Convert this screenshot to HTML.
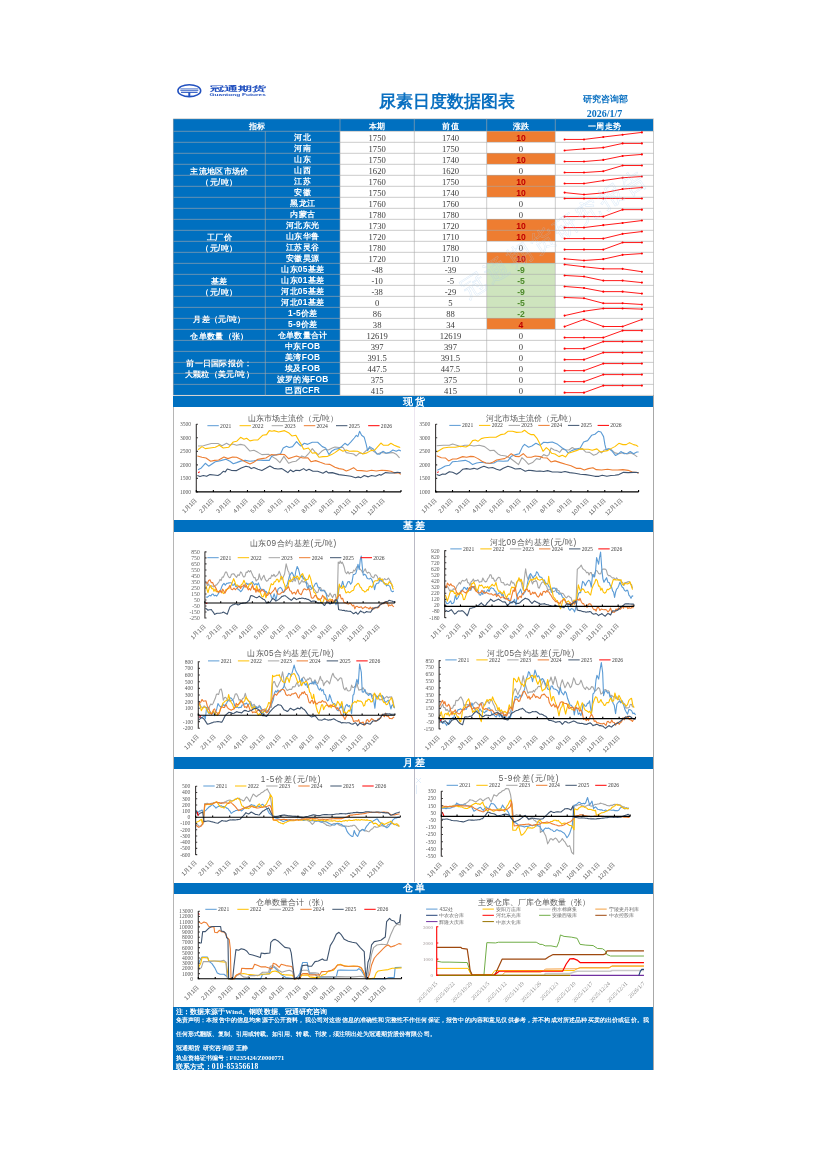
<!DOCTYPE html>
<html lang="zh"><head><meta charset="utf-8"><title>尿素日度数据图表</title>
<style>
html,body{margin:0;padding:0;background:#fff;}
body{width:826px;height:1168px;position:relative;overflow:hidden;font-family:"Liberation Sans",sans-serif;}
.abs{position:absolute;}
.bar{position:absolute;left:173.4px;width:480.1px;background:#0070c0;color:#fff;font-weight:bold;font-size:9.6px;text-align:center;}
.bar span{position:absolute;left:3.4px;right:0;top:-0.1px;line-height:12px;letter-spacing:2px}
.c{position:absolute;text-align:center;white-space:nowrap;overflow:hidden}
.lab{color:#fff;font-weight:bold;font-size:8.4px;line-height:13.4px;letter-spacing:0.3px;text-indent:0.3px}
.num{color:#3a3a3a;font-family:"Liberation Serif",serif;font-size:8.6px;line-height:14.4px;}
.up{background:#ee7d31;color:#c00000;font-weight:bold;font-family:"Liberation Sans",sans-serif;font-size:8.6px}
.dn{background:#cee4be;color:#4e8a2c;font-weight:bold;font-family:"Liberation Sans",sans-serif;font-size:8.6px}
svg text{font-family:"Liberation Serif",serif;}
svg text.cj{font-family:"Liberation Sans",sans-serif;}
.s{font-family:"Liberation Serif",serif;}
.ft{position:absolute;left:175.5px;color:#fff;font-weight:bold;white-space:nowrap;font-family:"Liberation Sans",sans-serif;}
#wrap{position:absolute;left:0;top:0;width:826px;height:1168px;will-change:transform;}
</style></head><body><div id="wrap">
<svg class="abs" style="left:0;top:0" width="826" height="118" viewBox="0 0 826 118">
<g fill="none" stroke="#2150bf">
<ellipse cx="189.3" cy="90.7" rx="11.4" ry="6.0" stroke-width="1.5"/>
<path d="M180.3 88.9H198.3M180.3 90.4H198.3" stroke-width="0.8"/>
<path d="M181 92.3H197.6" stroke-width="1.1"/>
<path d="M189.3 92.3V96.6" stroke-width="2"/>
<path d="M186.3 96.3H192.3" stroke-width="1"/>
</g>
<text x="209.5" y="91.4" font-size="7" font-weight="bold" fill="#2150bf" style="font-family:'Liberation Sans',sans-serif" textLength="56.3" lengthAdjust="spacingAndGlyphs">冠通期货</text>
<text x="209.5" y="96.3" font-size="3.6" font-weight="bold" fill="#2150bf" style="font-family:'Liberation Sans',sans-serif" textLength="56.3" lengthAdjust="spacingAndGlyphs">Guantong Futures</text>
</svg>
<div class="abs" style="left:347px;width:200px;top:90.8px;text-align:center;color:#0a70c1;font-weight:bold;font-size:16.6px;line-height:22px;font-family:'Liberation Sans',sans-serif;white-space:nowrap">尿素日度数据图表</div>
<div class="abs" style="left:565px;width:80px;top:93.5px;text-align:center;color:#0a70c1;font-weight:bold;font-size:8.7px;line-height:11px;font-family:'Liberation Sans',sans-serif;white-space:nowrap">研究咨询部</div>
<div class="abs" style="left:564.6px;width:80px;top:107.6px;text-align:center;color:#0a70c1;font-weight:bold;font-size:10px;line-height:11px;font-family:'Liberation Serif',serif;white-space:nowrap">2026/1/7</div>
<div class="abs" style="left:173.4px;top:118.8px;width:480.1px;height:12.5px;background:#0070c0"></div>
<div class="abs" style="left:173.4px;top:131.3px;width:166.6px;height:264.1px;background:#0070c0"></div>
<div class="c lab" style="left:173.4px;width:166.6px;top:118.8px;height:12.5px;line-height:15.4px">指标</div>
<div class="c lab" style="left:340px;width:74.3px;top:118.8px;height:12.5px;line-height:15.4px">本期</div>
<div class="c lab" style="left:414.3px;width:72.4px;top:118.8px;height:12.5px;line-height:15.4px">前值</div>
<div class="c lab" style="left:486.7px;width:68.6px;top:118.8px;height:12.5px;line-height:15.4px">涨跌</div>
<div class="c lab" style="left:555.3px;width:98.2px;top:118.8px;height:12.5px;line-height:15.4px">一周走势</div>
<div class="c lab" style="left:265.3px;width:74.7px;top:131.3px;height:11px">河北</div><div class="c num" style="left:340px;width:74.3px;top:131.3px;height:11px">1750</div><div class="c num" style="left:414.3px;width:72.4px;top:131.3px;height:11px">1740</div><div class="c num up" style="left:486.7px;width:68.6px;top:131.3px;height:11px">10</div>
<div class="c lab" style="left:265.3px;width:74.7px;top:142.3px;height:11px">河南</div><div class="c num" style="left:340px;width:74.3px;top:142.3px;height:11px">1750</div><div class="c num" style="left:414.3px;width:72.4px;top:142.3px;height:11px">1750</div><div class="c num" style="left:486.7px;width:68.6px;top:142.3px;height:11px">0</div>
<div class="c lab" style="left:265.3px;width:74.7px;top:153.31px;height:11px">山东</div><div class="c num" style="left:340px;width:74.3px;top:153.31px;height:11px">1750</div><div class="c num" style="left:414.3px;width:72.4px;top:153.31px;height:11px">1740</div><div class="c num up" style="left:486.7px;width:68.6px;top:153.31px;height:11px">10</div>
<div class="c lab" style="left:265.3px;width:74.7px;top:164.31px;height:11px">山西</div><div class="c num" style="left:340px;width:74.3px;top:164.31px;height:11px">1620</div><div class="c num" style="left:414.3px;width:72.4px;top:164.31px;height:11px">1620</div><div class="c num" style="left:486.7px;width:68.6px;top:164.31px;height:11px">0</div>
<div class="c lab" style="left:265.3px;width:74.7px;top:175.32px;height:11px">江苏</div><div class="c num" style="left:340px;width:74.3px;top:175.32px;height:11px">1760</div><div class="c num" style="left:414.3px;width:72.4px;top:175.32px;height:11px">1750</div><div class="c num up" style="left:486.7px;width:68.6px;top:175.32px;height:11px">10</div>
<div class="c lab" style="left:265.3px;width:74.7px;top:186.32px;height:11px">安徽</div><div class="c num" style="left:340px;width:74.3px;top:186.32px;height:11px">1750</div><div class="c num" style="left:414.3px;width:72.4px;top:186.32px;height:11px">1740</div><div class="c num up" style="left:486.7px;width:68.6px;top:186.32px;height:11px">10</div>
<div class="c lab" style="left:265.3px;width:74.7px;top:197.32px;height:11px">黑龙江</div><div class="c num" style="left:340px;width:74.3px;top:197.32px;height:11px">1760</div><div class="c num" style="left:414.3px;width:72.4px;top:197.32px;height:11px">1760</div><div class="c num" style="left:486.7px;width:68.6px;top:197.32px;height:11px">0</div>
<div class="c lab" style="left:265.3px;width:74.7px;top:208.33px;height:11px">内蒙古</div><div class="c num" style="left:340px;width:74.3px;top:208.33px;height:11px">1780</div><div class="c num" style="left:414.3px;width:72.4px;top:208.33px;height:11px">1780</div><div class="c num" style="left:486.7px;width:68.6px;top:208.33px;height:11px">0</div>
<div class="c lab" style="left:265.3px;width:74.7px;top:219.33px;height:11px">河北东光</div><div class="c num" style="left:340px;width:74.3px;top:219.33px;height:11px">1730</div><div class="c num" style="left:414.3px;width:72.4px;top:219.33px;height:11px">1720</div><div class="c num up" style="left:486.7px;width:68.6px;top:219.33px;height:11px">10</div>
<div class="c lab" style="left:265.3px;width:74.7px;top:230.34px;height:11px">山东华鲁</div><div class="c num" style="left:340px;width:74.3px;top:230.34px;height:11px">1720</div><div class="c num" style="left:414.3px;width:72.4px;top:230.34px;height:11px">1710</div><div class="c num up" style="left:486.7px;width:68.6px;top:230.34px;height:11px">10</div>
<div class="c lab" style="left:265.3px;width:74.7px;top:241.34px;height:11px">江苏灵谷</div><div class="c num" style="left:340px;width:74.3px;top:241.34px;height:11px">1780</div><div class="c num" style="left:414.3px;width:72.4px;top:241.34px;height:11px">1780</div><div class="c num" style="left:486.7px;width:68.6px;top:241.34px;height:11px">0</div>
<div class="c lab" style="left:265.3px;width:74.7px;top:252.34px;height:11px">安徽昊源</div><div class="c num" style="left:340px;width:74.3px;top:252.34px;height:11px">1720</div><div class="c num" style="left:414.3px;width:72.4px;top:252.34px;height:11px">1710</div><div class="c num up" style="left:486.7px;width:68.6px;top:252.34px;height:11px">10</div>
<div class="c lab" style="left:265.3px;width:74.7px;top:263.35px;height:11px">山东05基差</div><div class="c num" style="left:340px;width:74.3px;top:263.35px;height:11px">-48</div><div class="c num" style="left:414.3px;width:72.4px;top:263.35px;height:11px">-39</div><div class="c num dn" style="left:486.7px;width:68.6px;top:263.35px;height:11px">-9</div>
<div class="c lab" style="left:265.3px;width:74.7px;top:274.35px;height:11px">山东01基差</div><div class="c num" style="left:340px;width:74.3px;top:274.35px;height:11px">-10</div><div class="c num" style="left:414.3px;width:72.4px;top:274.35px;height:11px">-5</div><div class="c num dn" style="left:486.7px;width:68.6px;top:274.35px;height:11px">-5</div>
<div class="c lab" style="left:265.3px;width:74.7px;top:285.36px;height:11px">河北05基差</div><div class="c num" style="left:340px;width:74.3px;top:285.36px;height:11px">-38</div><div class="c num" style="left:414.3px;width:72.4px;top:285.36px;height:11px">-29</div><div class="c num dn" style="left:486.7px;width:68.6px;top:285.36px;height:11px">-9</div>
<div class="c lab" style="left:265.3px;width:74.7px;top:296.36px;height:11px">河北01基差</div><div class="c num" style="left:340px;width:74.3px;top:296.36px;height:11px">0</div><div class="c num" style="left:414.3px;width:72.4px;top:296.36px;height:11px">5</div><div class="c num dn" style="left:486.7px;width:68.6px;top:296.36px;height:11px">-5</div>
<div class="c lab" style="left:265.3px;width:74.7px;top:307.36px;height:11px">1-5价差</div><div class="c num" style="left:340px;width:74.3px;top:307.36px;height:11px">86</div><div class="c num" style="left:414.3px;width:72.4px;top:307.36px;height:11px">88</div><div class="c num dn" style="left:486.7px;width:68.6px;top:307.36px;height:11px">-2</div>
<div class="c lab" style="left:265.3px;width:74.7px;top:318.37px;height:11px">5-9价差</div><div class="c num" style="left:340px;width:74.3px;top:318.37px;height:11px">38</div><div class="c num" style="left:414.3px;width:72.4px;top:318.37px;height:11px">34</div><div class="c num up" style="left:486.7px;width:68.6px;top:318.37px;height:11px">4</div>
<div class="c lab" style="left:265.3px;width:74.7px;top:329.37px;height:11px">仓单数量合计</div><div class="c num" style="left:340px;width:74.3px;top:329.37px;height:11px">12619</div><div class="c num" style="left:414.3px;width:72.4px;top:329.37px;height:11px">12619</div><div class="c num" style="left:486.7px;width:68.6px;top:329.37px;height:11px">0</div>
<div class="c lab" style="left:265.3px;width:74.7px;top:340.38px;height:11px">中东FOB</div><div class="c num" style="left:340px;width:74.3px;top:340.38px;height:11px">397</div><div class="c num" style="left:414.3px;width:72.4px;top:340.38px;height:11px">397</div><div class="c num" style="left:486.7px;width:68.6px;top:340.38px;height:11px">0</div>
<div class="c lab" style="left:265.3px;width:74.7px;top:351.38px;height:11px">美湾FOB</div><div class="c num" style="left:340px;width:74.3px;top:351.38px;height:11px">391.5</div><div class="c num" style="left:414.3px;width:72.4px;top:351.38px;height:11px">391.5</div><div class="c num" style="left:486.7px;width:68.6px;top:351.38px;height:11px">0</div>
<div class="c lab" style="left:265.3px;width:74.7px;top:362.38px;height:11px">埃及FOB</div><div class="c num" style="left:340px;width:74.3px;top:362.38px;height:11px">447.5</div><div class="c num" style="left:414.3px;width:72.4px;top:362.38px;height:11px">447.5</div><div class="c num" style="left:486.7px;width:68.6px;top:362.38px;height:11px">0</div>
<div class="c lab" style="left:265.3px;width:74.7px;top:373.39px;height:11px">波罗的海FOB</div><div class="c num" style="left:340px;width:74.3px;top:373.39px;height:11px">375</div><div class="c num" style="left:414.3px;width:72.4px;top:373.39px;height:11px">375</div><div class="c num" style="left:486.7px;width:68.6px;top:373.39px;height:11px">0</div>
<div class="c lab" style="left:265.3px;width:74.7px;top:384.39px;height:11px">巴西CFR</div><div class="c num" style="left:340px;width:74.3px;top:384.39px;height:11px">415</div><div class="c num" style="left:414.3px;width:72.4px;top:384.39px;height:11px">415</div><div class="c num" style="left:486.7px;width:68.6px;top:384.39px;height:11px">0</div>
<div class="c lab" style="left:173.4px;width:91.9px;top:165.52px;height:22px;line-height:11px">主流地区市场价<br>（元/吨）</div>
<div class="c lab" style="left:173.4px;width:91.9px;top:231.54px;height:22px;line-height:11px">工厂价<br>（元/吨）</div>
<div class="c lab" style="left:173.4px;width:91.9px;top:275.56px;height:22px;line-height:11px">基差<br>（元/吨）</div>
<div class="c lab" style="left:173.4px;width:91.9px;top:314.07px;height:11px;line-height:11px">月差（元/吨）</div>
<div class="c lab" style="left:173.4px;width:91.9px;top:330.57px;height:11px;line-height:11px">仓单数量（张）</div>
<div class="c lab" style="left:173.4px;width:91.9px;top:358.09px;height:22px;line-height:11px">前一日国际报价：<br>大颗粒（美元/吨）</div>
<svg class="abs" style="left:0;top:0" width="826" height="400" viewBox="0 0 826 400">
<path d="M173.4 118.8H653.5M173.4 131.3H653.5M173.4 142.3H653.5M173.4 153.31H653.5M173.4 164.31H653.5M173.4 175.32H653.5M173.4 186.32H653.5M173.4 197.32H653.5M173.4 208.33H653.5M173.4 219.33H653.5M173.4 230.34H653.5M173.4 241.34H653.5M173.4 252.34H653.5M173.4 263.35H653.5M173.4 274.35H653.5M173.4 285.36H653.5M173.4 296.36H653.5M173.4 307.36H653.5M173.4 318.37H653.5M173.4 329.37H653.5M173.4 340.38H653.5M173.4 351.38H653.5M173.4 362.38H653.5M173.4 373.39H653.5M173.4 384.39H653.5M173.4 395.4H653.5M173.4 118.8V395.4M265.3 131.3V395.4M340 118.8V395.4M414.3 118.8V395.4M486.7 118.8V395.4M555.3 118.8V395.4M653.5 118.8V395.4" fill="none" stroke="#a9a9a9" stroke-width="0.6"/>
<polyline points="564.6,139.44 584,139.44 603.3,137.02 622.6,134.71 641.9,132.4" fill="none" stroke="#ff0000" stroke-width="0.9"/><path d="M564.6 139.44h0.01M584 139.44h0.01M603.3 137.02h0.01M622.6 134.71h0.01M641.9 132.4h0.01" fill="none" stroke="#ff0000" stroke-width="2.1" stroke-linecap="round"/>
<polyline points="564.6,150.45 584,148.91 603.3,147.59 622.6,143.4 641.9,143.4" fill="none" stroke="#ff0000" stroke-width="0.9"/><path d="M564.6 150.45h0.01M584 148.91h0.01M603.3 147.59h0.01M622.6 143.4h0.01M641.9 143.4h0.01" fill="none" stroke="#ff0000" stroke-width="2.1" stroke-linecap="round"/>
<polyline points="564.6,161.56 584,161.56 603.3,159.91 622.6,155.95 641.9,154.41" fill="none" stroke="#ff0000" stroke-width="0.9"/><path d="M564.6 161.56h0.01M584 161.56h0.01M603.3 159.91h0.01M622.6 155.95h0.01M641.9 154.41h0.01" fill="none" stroke="#ff0000" stroke-width="2.1" stroke-linecap="round"/>
<polyline points="564.6,172.56 584,172.56 603.3,171.24 622.6,165.52 641.9,165.52" fill="none" stroke="#ff0000" stroke-width="0.9"/><path d="M564.6 172.56h0.01M584 172.56h0.01M603.3 171.24h0.01M622.6 165.52h0.01M641.9 165.52h0.01" fill="none" stroke="#ff0000" stroke-width="2.1" stroke-linecap="round"/>
<polyline points="564.6,183.57 584,183.57 603.3,180.6 622.6,177.74 641.9,176.53" fill="none" stroke="#ff0000" stroke-width="0.9"/><path d="M564.6 183.57h0.01M584 183.57h0.01M603.3 180.6h0.01M622.6 177.74h0.01M641.9 176.53h0.01" fill="none" stroke="#ff0000" stroke-width="2.1" stroke-linecap="round"/>
<polyline points="564.6,192.59 584,194.57 603.3,192.92 622.6,189.07 641.9,187.53" fill="none" stroke="#ff0000" stroke-width="0.9"/><path d="M564.6 192.59h0.01M584 194.57h0.01M603.3 192.92h0.01M622.6 189.07h0.01M641.9 187.53h0.01" fill="none" stroke="#ff0000" stroke-width="2.1" stroke-linecap="round"/>
<polyline points="564.6,198.53 584,198.53 603.3,198.53 622.6,198.53 641.9,198.53" fill="none" stroke="#ff0000" stroke-width="0.9"/><path d="M564.6 198.53h0.01M584 198.53h0.01M603.3 198.53h0.01M622.6 198.53h0.01M641.9 198.53h0.01" fill="none" stroke="#ff0000" stroke-width="2.1" stroke-linecap="round"/>
<polyline points="564.6,216.58 584,216.58 603.3,216.58 622.6,209.65 641.9,209.65" fill="none" stroke="#ff0000" stroke-width="0.9"/><path d="M564.6 216.58h0.01M584 216.58h0.01M603.3 216.58h0.01M622.6 209.65h0.01M641.9 209.65h0.01" fill="none" stroke="#ff0000" stroke-width="2.1" stroke-linecap="round"/>
<polyline points="564.6,227.58 584,227.58 603.3,225.16 622.6,222.96 641.9,220.54" fill="none" stroke="#ff0000" stroke-width="0.9"/><path d="M564.6 227.58h0.01M584 227.58h0.01M603.3 225.16h0.01M622.6 222.96h0.01M641.9 220.54h0.01" fill="none" stroke="#ff0000" stroke-width="2.1" stroke-linecap="round"/>
<polyline points="564.6,238.59 584,238.59 603.3,238.59 622.6,233.86 641.9,231.55" fill="none" stroke="#ff0000" stroke-width="0.9"/><path d="M564.6 238.59h0.01M584 238.59h0.01M603.3 238.59h0.01M622.6 233.86h0.01M641.9 231.55h0.01" fill="none" stroke="#ff0000" stroke-width="2.1" stroke-linecap="round"/>
<polyline points="564.6,249.59 584,249.59 603.3,249.59 622.6,242.55 641.9,242.55" fill="none" stroke="#ff0000" stroke-width="0.9"/><path d="M564.6 249.59h0.01M584 249.59h0.01M603.3 249.59h0.01M622.6 242.55h0.01M641.9 242.55h0.01" fill="none" stroke="#ff0000" stroke-width="2.1" stroke-linecap="round"/>
<polyline points="564.6,258.84 584,260.49 603.3,259.17 622.6,254.87 641.9,253.55" fill="none" stroke="#ff0000" stroke-width="0.9"/><path d="M564.6 258.84h0.01M584 260.49h0.01M603.3 259.17h0.01M622.6 254.87h0.01M641.9 253.55h0.01" fill="none" stroke="#ff0000" stroke-width="2.1" stroke-linecap="round"/>
<polyline points="564.6,264.45 584,266.76 603.3,268.85 622.6,268.85 641.9,271.71" fill="none" stroke="#ff0000" stroke-width="0.9"/><path d="M564.6 264.45h0.01M584 266.76h0.01M603.3 268.85h0.01M622.6 268.85h0.01M641.9 271.71h0.01" fill="none" stroke="#ff0000" stroke-width="2.1" stroke-linecap="round"/>
<polyline points="564.6,275.45 584,276.55 603.3,280.62 622.6,280.62 641.9,282.6" fill="none" stroke="#ff0000" stroke-width="0.9"/><path d="M564.6 275.45h0.01M584 276.55h0.01M603.3 280.62h0.01M622.6 280.62h0.01M641.9 282.6h0.01" fill="none" stroke="#ff0000" stroke-width="2.1" stroke-linecap="round"/>
<polyline points="564.6,286.46 584,288 603.3,291.63 622.6,291.63 641.9,293.61" fill="none" stroke="#ff0000" stroke-width="0.9"/><path d="M564.6 286.46h0.01M584 288h0.01M603.3 291.63h0.01M622.6 291.63h0.01M641.9 293.61h0.01" fill="none" stroke="#ff0000" stroke-width="2.1" stroke-linecap="round"/>
<polyline points="564.6,297.46 584,298.23 603.3,303.29 622.6,303.29 641.9,304.5" fill="none" stroke="#ff0000" stroke-width="0.9"/><path d="M564.6 297.46h0.01M584 298.23h0.01M603.3 303.29h0.01M622.6 303.29h0.01M641.9 304.5h0.01" fill="none" stroke="#ff0000" stroke-width="2.1" stroke-linecap="round"/>
<polyline points="564.6,315.62 584,311.22 603.3,308.46 622.6,308.46 641.9,309.12" fill="none" stroke="#ff0000" stroke-width="0.9"/><path d="M564.6 315.62h0.01M584 311.22h0.01M603.3 308.46h0.01M622.6 308.46h0.01M641.9 309.12h0.01" fill="none" stroke="#ff0000" stroke-width="2.1" stroke-linecap="round"/>
<polyline points="564.6,326.62 584,319.47 603.3,326.51 622.6,326.51 641.9,319.47" fill="none" stroke="#ff0000" stroke-width="0.9"/><path d="M564.6 326.62h0.01M584 319.47h0.01M603.3 326.51h0.01M622.6 326.51h0.01M641.9 319.47h0.01" fill="none" stroke="#ff0000" stroke-width="2.1" stroke-linecap="round"/>
<polyline points="564.6,337.62 584,337.62 603.3,337.62 622.6,330.58 641.9,330.58" fill="none" stroke="#ff0000" stroke-width="0.9"/><path d="M564.6 337.62h0.01M584 337.62h0.01M603.3 337.62h0.01M622.6 330.58h0.01M641.9 330.58h0.01" fill="none" stroke="#ff0000" stroke-width="2.1" stroke-linecap="round"/>
<polyline points="564.6,348.63 584,348.63 603.3,341.59 622.6,341.59 641.9,341.59" fill="none" stroke="#ff0000" stroke-width="0.9"/><path d="M564.6 348.63h0.01M584 348.63h0.01M603.3 341.59h0.01M622.6 341.59h0.01M641.9 341.59h0.01" fill="none" stroke="#ff0000" stroke-width="2.1" stroke-linecap="round"/>
<polyline points="564.6,359.63 584,359.63 603.3,352.59 622.6,352.59 641.9,352.59" fill="none" stroke="#ff0000" stroke-width="0.9"/><path d="M564.6 359.63h0.01M584 359.63h0.01M603.3 352.59h0.01M622.6 352.59h0.01M641.9 352.59h0.01" fill="none" stroke="#ff0000" stroke-width="2.1" stroke-linecap="round"/>
<polyline points="564.6,370.64 584,370.64 603.3,363.59 622.6,363.59 641.9,363.59" fill="none" stroke="#ff0000" stroke-width="0.9"/><path d="M564.6 370.64h0.01M584 370.64h0.01M603.3 363.59h0.01M622.6 363.59h0.01M641.9 363.59h0.01" fill="none" stroke="#ff0000" stroke-width="2.1" stroke-linecap="round"/>
<polyline points="564.6,381.64 584,381.64 603.3,374.6 622.6,374.6 641.9,374.6" fill="none" stroke="#ff0000" stroke-width="0.9"/><path d="M564.6 381.64h0.01M584 381.64h0.01M603.3 374.6h0.01M622.6 374.6h0.01M641.9 374.6h0.01" fill="none" stroke="#ff0000" stroke-width="2.1" stroke-linecap="round"/>
<polyline points="564.6,392.64 584,392.64 603.3,385.6 622.6,385.6 641.9,385.6" fill="none" stroke="#ff0000" stroke-width="0.9"/><path d="M564.6 392.64h0.01M584 392.64h0.01M603.3 385.6h0.01M622.6 385.6h0.01M641.9 385.6h0.01" fill="none" stroke="#ff0000" stroke-width="2.1" stroke-linecap="round"/>
<text x="0" y="0" transform="translate(468.4,298.6) rotate(-32.8)" font-size="24" fill="none" stroke="#a6cbee" stroke-width="0.4" opacity="0.45" style="font-family:'Liberation Sans',sans-serif" textLength="214" lengthAdjust="spacing">冠通期货研究报告</text>
</svg>
<div class="bar" style="top:395.6px;height:11.6px"><span>现货</span></div>
<div class="bar" style="top:520.1px;height:11.7px"><span>基差</span></div>
<div class="bar" style="top:757.4px;height:11.8px"><span>月差</span></div>
<div class="bar" style="top:882.5px;height:11.7px"><span>仓单</span></div>
<div class="abs" style="left:173.2px;top:407px;width:0.8px;height:601px;background:#b5b5b5"></div>
<div class="abs" style="left:653.1px;top:395px;width:0.9px;height:675px;background:#a8a8a8"></div>
<div class="abs" style="left:413.7px;top:407.2px;width:0.6px;height:112.9px;background:#ece6f0"></div>
<div class="abs" style="left:413.7px;top:531.8px;width:0.9px;height:225.6px;background:#b9b9c4"></div>
<div class="abs" style="left:413.7px;top:769.2px;width:0.9px;height:113.3px;background:#b9b9c4"></div>
<svg class="abs" style="left:414px;top:776px" width="10" height="22" viewBox="0 0 10 22"><path d="M2 2L7 7M7 2L2 7M2.5 9V18" stroke="#cfe3f7" stroke-width="0.6" fill="none"/></svg>
<svg class="abs" style="left:0;top:400px" width="826" height="612" viewBox="0 400 826 612">
<text class="cj" x="292.7" y="420.6" font-size="8.2" text-anchor="middle" fill="#595959" letter-spacing="0">山东市场主流价（元/吨）</text>
<text x="191.1" y="426.2" font-size="5.6" text-anchor="end" fill="#595959">3500</text><text x="191.1" y="439.72" font-size="5.6" text-anchor="end" fill="#595959">3000</text><text x="191.1" y="453.24" font-size="5.6" text-anchor="end" fill="#595959">2500</text><text x="191.1" y="466.76" font-size="5.6" text-anchor="end" fill="#595959">2000</text><text x="191.1" y="480.28" font-size="5.6" text-anchor="end" fill="#595959">1500</text><text x="191.1" y="493.8" font-size="5.6" text-anchor="end" fill="#595959">1000</text>
<path d="M197.99 445.97L203.32 445.7L211.31 443.57L217.97 443.57L221.96 445.7L226.62 443.3L229.95 445.3L232.62 443.97L236.61 445.3L240.61 444.37L244.6 445.3L249.93 451.03L253.92 450.23L257.92 452.36L261.91 454.62L268.57 454.22L272.57 456.89L276.56 459.28L279.89 462.61L283.89 456.35L288.55 463.28L292.54 461.68L295.87 461.28L300 457.95L301.66 455.95L304.99 457.29L308.32 453.96L312.31 448.63L314.98 451.96L318.31 454.62L321.63 451.29L324.96 449.3L328.29 449.96L332.29 447.96L334.95 447.03L338.95 447.56L342.94 447.3L346.27 452.62L349.6 453.29L353.6 453.96L356.26 455.95L359.59 452.89L362.92 453.69L366.91 449.96L369.58 447.96L373.57 451.29L377.57 453.96L381.56 452.36L385.56 453.29L389.55 452.89L392.88 452.62L396.21 454.22L399.54 457.95" fill="none" stroke="#a5a5a5" stroke-width="1.1" stroke-linejoin="round"/>
<path d="M197.99 469.67L201.32 467.94L205.31 463.28L208.64 466.21L215.3 461.68L220.63 460.62L225.96 459.28L229.95 461.28L233.28 463.68L236.61 462.61L241.27 460.88L245.27 460.35L249.93 461.28L253.92 460.88L257.92 459.95L263.24 460.35L269.24 460.35L271.9 455.95L276.56 454.62L280.56 453.69L283.22 447.96L286.55 446.23L289.21 447.56L292.54 446.63L296.54 441.7L300 445.3L300.99 445.97L304.32 443.3L307.65 444.37L312.31 442.24L317.64 442.24L322.3 446.63L325.63 447.96L328.96 454.62L331.62 451.29L334.95 449.3L338.95 448.63L342.28 445.97L344.94 443.3L347.6 445.3L350.93 441.97L354.26 437.98L356.26 435.31L357.86 436.64L359.59 431.32L361.59 435.31L364.25 437.31L366.25 444.63L367.58 450.63L369.58 446.63L373.57 449.3L376.9 453.96L379.56 454.22L382.89 451.29L386.22 453.29L389.55 452.36L392.88 449.96L396.21 451.29L398.87 449.96L400.87 451.03" fill="none" stroke="#5b9bd5" stroke-width="1.1" stroke-linejoin="round"/>
<path d="M197.99 449.69L201.99 446.63L205.31 448.63L209.98 447.96L215.3 447.3L219.3 445.3L223.29 447.96L228.62 447.3L233.28 441.97L236.61 441.31L240.61 437.31L243.93 439.31L246.6 438.24L249.93 440.91L253.92 439.97L257.92 439.97L262.58 435.31L266.57 434.65L269.24 430.65L271.9 431.32L273.9 430.65L278.56 431.98L284.55 430.65L288.55 432.65L291.88 435.98L295.87 435.31L300 442.64L300.33 442.64L303.66 449.3L308.32 447.96L312.31 453.29L315.64 452.62L318.97 457.29L322.97 456.62L327.63 456.35L331.62 454.62L334.95 452.62L339.61 449.3L342.94 451.29L346.27 449.96L349.6 451.29L353.6 451.03L357.59 451.29L360.25 452.62L362.92 453.96L366.91 452.89L370.91 450.63L374.9 449.96L378.9 445.3L380.9 443.04L383.56 445.3L388.22 445.3L390.88 443.3L394.21 445.3L397.54 446.63L400.21 447.56" fill="none" stroke="#ffc000" stroke-width="1.1" stroke-linejoin="round"/>
<path d="M197.32 455.95L201.99 457.29L205.98 457.95L210.64 461.28L214.64 460.35L218.63 459.95L223.96 457.02L227.95 458.62L232.62 457.02L236.61 457.29L241.27 459.55L245.27 461.68L249.93 463.94L253.26 462.61L257.92 459.28L261.91 458.62L265.91 457.95L271.23 454.62L276.56 455.02L280.56 454.22L284.55 454.62L288.55 458.62L292.54 457.29L296.54 455.95L300 457.29L302.99 457.95L307.65 457.69L310.98 461.68L315.64 460.62L320.3 462.35L324.96 463.94L329.62 464.34L334.95 467.27L338.95 468.61L342.94 469.27L346.27 471L349.6 469.67L353.6 467.67L356.92 470.34L361.59 470.6L366.91 471.27L371.57 470.2L376.23 471L381.56 470.2L386.89 470.6L390.88 471.27L394.21 472.87L398.21 472.87L400.87 474.2" fill="none" stroke="#ed7d31" stroke-width="1.1" stroke-linejoin="round"/>
<path d="M197.32 475.53L199.99 476.6L203.32 475.53L206.65 476.33L209.98 474.6L213.97 475L217.97 475.53L220.63 473.93L223.29 471.27L225.29 471.93L227.29 469L231.28 470.34L236.61 470.6L241.27 467.94L245.93 466.21L249.26 467.01L251.26 468.61L253.92 467.54L257.92 469.27L261.91 470.6L265.91 468.34L269.9 465.94L273.9 468.34L277.89 469L281.89 468.61L285.88 471.27L287.88 472.6L290.54 469.94L293.21 471.67L295.87 470.2L300 470.6L303.66 468.61L306.32 470.6L308.98 469.27L312.98 471.27L317.64 471.27L322.97 473.27L326.3 471.27L328.29 472.87L332.29 472.6L338.95 474.6L345.61 475.53L350.93 476.33L355.59 477.66L358.26 476.86L360.92 477.66L364.25 475.53L368.24 476.86L371.57 475.53L375.57 476.2L379.56 474.6L380.9 475.26L385.56 472.6L389.55 473L393.55 472.87L397.54 472.33L400.87 472.87" fill="none" stroke="#3f546f" stroke-width="1.1" stroke-linejoin="round"/>
<path d="M198.26 472.87L199.59 471.67" fill="none" stroke="#ff0000" stroke-width="1.1" stroke-linejoin="round"/>
<path d="M196.3 423.9V492.3M196.3 424.3h1.6M196.3 437.82h1.6M196.3 451.34h1.6M196.3 464.86h1.6M196.3 478.38h1.6M196.3 491.9h1.6" fill="none" stroke="#3b3838" stroke-width="1.1"/>
<path d="M195.8 491.9H401M196.3 491.9v-1.8M213.36 491.9v-1.8M230.42 491.9v-1.8M247.47 491.9v-1.8M264.53 491.9v-1.8M281.59 491.9v-1.8M298.65 491.9v-1.8M315.71 491.9v-1.8M332.77 491.9v-1.8M349.83 491.9v-1.8M366.88 491.9v-1.8M383.94 491.9v-1.8M401 491.9v-1.8" fill="none" stroke="#000" stroke-width="1.1"/>
<text class="cj" transform="translate(197.5,500.5) rotate(-45)" font-size="5.8" text-anchor="end" fill="#595959">1月1日</text><text class="cj" transform="translate(214.56,500.5) rotate(-45)" font-size="5.8" text-anchor="end" fill="#595959">2月1日</text><text class="cj" transform="translate(231.62,500.5) rotate(-45)" font-size="5.8" text-anchor="end" fill="#595959">3月1日</text><text class="cj" transform="translate(248.67,500.5) rotate(-45)" font-size="5.8" text-anchor="end" fill="#595959">4月1日</text><text class="cj" transform="translate(265.73,500.5) rotate(-45)" font-size="5.8" text-anchor="end" fill="#595959">5月1日</text><text class="cj" transform="translate(282.79,500.5) rotate(-45)" font-size="5.8" text-anchor="end" fill="#595959">6月1日</text><text class="cj" transform="translate(299.85,500.5) rotate(-45)" font-size="5.8" text-anchor="end" fill="#595959">7月1日</text><text class="cj" transform="translate(316.91,500.5) rotate(-45)" font-size="5.8" text-anchor="end" fill="#595959">8月1日</text><text class="cj" transform="translate(333.97,500.5) rotate(-45)" font-size="5.8" text-anchor="end" fill="#595959">9月1日</text><text class="cj" transform="translate(351.03,500.5) rotate(-45)" font-size="5.8" text-anchor="end" fill="#595959">10月1日</text><text class="cj" transform="translate(368.08,500.5) rotate(-45)" font-size="5.8" text-anchor="end" fill="#595959">11月1日</text><text class="cj" transform="translate(385.14,500.5) rotate(-45)" font-size="5.8" text-anchor="end" fill="#595959">12月1日</text>
<path d="M207.4 425.7h11.4" stroke="#5b9bd5" stroke-width="1" fill="none"/><text x="220.1" y="427.6" font-size="5.6" fill="#404040">2021</text><path d="M239.55 425.7h11.4" stroke="#ffc000" stroke-width="1" fill="none"/><text x="252.25" y="427.6" font-size="5.6" fill="#404040">2022</text><path d="M271.7 425.7h11.4" stroke="#a5a5a5" stroke-width="1" fill="none"/><text x="284.4" y="427.6" font-size="5.6" fill="#404040">2023</text><path d="M303.85 425.7h11.4" stroke="#ed7d31" stroke-width="1" fill="none"/><text x="316.55" y="427.6" font-size="5.6" fill="#404040">2024</text><path d="M336 425.7h11.4" stroke="#3f546f" stroke-width="1" fill="none"/><text x="348.7" y="427.6" font-size="5.6" fill="#404040">2025</text><path d="M368.15 425.7h11.4" stroke="#ff0000" stroke-width="1" fill="none"/><text x="380.85" y="427.6" font-size="5.6" fill="#404040">2026</text>
<text class="cj" x="531.3" y="420.6" font-size="8.2" text-anchor="middle" fill="#595959" letter-spacing="0">河北市场主流价（元/吨）</text>
<text x="430.4" y="426.2" font-size="5.6" text-anchor="end" fill="#595959">3500</text><text x="430.4" y="439.72" font-size="5.6" text-anchor="end" fill="#595959">3000</text><text x="430.4" y="453.24" font-size="5.6" text-anchor="end" fill="#595959">2500</text><text x="430.4" y="466.76" font-size="5.6" text-anchor="end" fill="#595959">2000</text><text x="430.4" y="480.28" font-size="5.6" text-anchor="end" fill="#595959">1500</text><text x="430.4" y="493.8" font-size="5.6" text-anchor="end" fill="#595959">1000</text>
<path d="M436.66 445.7L443.32 445.3L449.31 445.3L452.64 443.97L456.63 445.3L460.63 446.63L464.62 445.3L469.95 445.3L473.95 445.97L479.27 445.3L484.6 446.63L489.93 450.63L493.92 450.23L497.92 453.96L500.58 455.29L505.91 455.95L509.9 457.95L515.23 461.95L518.56 464.61L521.89 457.69L525.22 460.62L528.55 464.34L532.54 462.61L536.54 458.62L540 459.55L540.99 457.29L543.66 454.62L546.99 455.95L548.98 454.62L550.98 447.96L554.31 449.96L556.97 450.63L559.64 452.36L562.3 448.9L564.96 449.69L568.96 449.96L572.29 447.56L574.95 448.9L578.28 449.3L582.28 448.63L585.61 451.96L589.6 452.36L593.6 455.29L596.92 453.96L599.59 451.29L601.59 452.89L604.25 449.96L607.58 448.9L610.91 449.3L614.9 452.89L618.9 453.69L622.89 452.62L626.89 453.96L630.88 452.89L634.21 454.62L637.28 456.89" fill="none" stroke="#a5a5a5" stroke-width="1.1" stroke-linejoin="round"/>
<path d="M437.32 470.2L441.32 468.34L445.31 465.94L449.31 465.28L452.64 461.68L457.97 461.28L465.29 460.35L469.29 461.95L472.62 464.61L476.61 463.01L481.27 462.21L485.93 463.01L489.93 463.54L493.92 463.01L497.92 460.88L503.24 461.28L507.91 460.88L511.23 456.35L515.9 454.62L519.23 453.69L522.55 446.63L524.55 444.37L528.55 447.3L531.88 445.97L535.87 443.3L540 445.3L543.66 442.24L547.65 442.64L552.31 441.97L557.64 444.37L562.3 447.96L565.63 449.96L568.03 452.89L571.62 450.63L575.62 449.3L580.28 447.96L583.61 441.97L587.6 440.64L591.6 435.31L594.93 434.25L598.26 431.32L600.92 431.98L603.58 436.64L604.92 444.63L606.25 449.96L608.91 448.63L612.24 451.29L615.57 455.55L618.23 453.96L620.9 451.56L624.23 453.69L627.55 453.29L630.22 451.56L633.55 453.69L636.88 451.96L638.61 451.96" fill="none" stroke="#5b9bd5" stroke-width="1.1" stroke-linejoin="round"/>
<path d="M436.66 451.96L439.99 449.96L443.32 447.96L448.64 447.3L455.3 447.3L460.63 446.23L465.96 447.03L469.29 445.3L472.62 440.64L475.28 439.97L477.94 441.31L481.27 438.64L484.6 437.71L489.93 437.31L495.92 437.31L500.58 434.65L504.58 433.98L507.91 431.32L512.57 431.32L516.56 432.38L521.89 431.98L524.55 430.25L527.88 432.92L531.21 434.65L533.87 434.65L537.2 438.64L540 443.97L540.33 445.3L542.99 451.29L546.32 447.56L548.98 449.96L551.65 453.29L554.98 453.96L558.97 456.62L562.3 455.29L565.63 456.89L568.29 453.29L572.29 451.96L576.28 450.63L580.28 448.9L584.27 449.3L588.27 449.3L592.26 450.23L596.92 448.9L600.25 451.96L604.25 451.29L607.58 450.63L610.91 448.63L614.9 446.63L618.9 443.3L622.89 444.63L626.22 444.63L629.55 442.64L633.55 444.63L636.21 445.3L638.21 446.63" fill="none" stroke="#ffc000" stroke-width="1.1" stroke-linejoin="round"/>
<path d="M436.66 455.69L441.32 457.69L445.31 457.95L448.64 460.88L452.64 459.02L456.63 459.02L462.63 456.62L466.62 457.29L470.62 456.35L473.95 456.62L477.94 458.62L481.94 461.28L485.93 463.01L489.93 463.28L493.26 461.95L496.59 459.95L500.58 459.28L504.58 458.62L507.91 456.62L511.23 453.69L515.23 456.35L519.23 456.62L523.22 453.69L527.22 457.29L531.21 457.29L535.21 455.95L540 456.62L542.99 457.69L546.99 457.95L550.98 461.95L554.98 460.88L560.3 462.61L565.63 464.34L570.96 465.68L576.28 468.34L580.28 468.34L584.27 469.94L588.27 468.61L592.93 467.67L596.26 469.67L601.59 469.94L607.58 469.27L612.24 469.94L617.57 469.94L622.89 469.67L628.22 470.34L632.22 471.93L636.21 472.33L638.61 473.27" fill="none" stroke="#ed7d31" stroke-width="1.1" stroke-linejoin="round"/>
<path d="M436.66 474.6L439.32 475.53L442.65 473.93L445.31 474.2L449.31 471.67L452.64 472.33L456.63 474.2L459.96 471.93L462.63 469.27L466.62 468.61L469.95 469.27L473.95 468.34L477.28 469.27L481.27 467.27L483.93 466.21L488.6 467.94L492.59 467.54L496.59 469.27L499.92 470.2L503.24 468.34L507.91 466.34L511.23 467.27L515.23 469L520.56 468.61L525.22 471.27L528.55 470.2L532.54 470.6L536.54 471.27L540 471L543.66 471.54L547.65 470.6L552.31 471.93L557.64 471.93L561.63 472.33L564.96 471.54L569.62 472.6L574.95 473.27L580.28 474.2L585.61 474.6L590.93 475.53L594.93 476.33L598.92 476.33L602.25 475.26L606.91 476.33L610.91 475.53L614.9 475.26L618.9 474.6L623.56 472.33L628.22 472.6L633.55 472.33L638.61 472.6" fill="none" stroke="#3f546f" stroke-width="1.1" stroke-linejoin="round"/>
<path d="M437.32 472.6L438.66 471.67" fill="none" stroke="#ff0000" stroke-width="1.1" stroke-linejoin="round"/>
<path d="M435.6 423.9V492.3M435.6 424.3h1.6M435.6 437.82h1.6M435.6 451.34h1.6M435.6 464.86h1.6M435.6 478.38h1.6M435.6 491.9h1.6" fill="none" stroke="#3b3838" stroke-width="1.1"/>
<path d="M435.1 491.9H638.6M435.6 491.9v-1.8M452.52 491.9v-1.8M469.43 491.9v-1.8M486.35 491.9v-1.8M503.27 491.9v-1.8M520.18 491.9v-1.8M537.1 491.9v-1.8M554.02 491.9v-1.8M570.93 491.9v-1.8M587.85 491.9v-1.8M604.77 491.9v-1.8M621.68 491.9v-1.8M638.6 491.9v-1.8" fill="none" stroke="#000" stroke-width="1.1"/>
<text class="cj" transform="translate(436.8,500.5) rotate(-45)" font-size="5.8" text-anchor="end" fill="#595959">1月1日</text><text class="cj" transform="translate(453.72,500.5) rotate(-45)" font-size="5.8" text-anchor="end" fill="#595959">2月1日</text><text class="cj" transform="translate(470.63,500.5) rotate(-45)" font-size="5.8" text-anchor="end" fill="#595959">3月1日</text><text class="cj" transform="translate(487.55,500.5) rotate(-45)" font-size="5.8" text-anchor="end" fill="#595959">4月1日</text><text class="cj" transform="translate(504.47,500.5) rotate(-45)" font-size="5.8" text-anchor="end" fill="#595959">5月1日</text><text class="cj" transform="translate(521.38,500.5) rotate(-45)" font-size="5.8" text-anchor="end" fill="#595959">6月1日</text><text class="cj" transform="translate(538.3,500.5) rotate(-45)" font-size="5.8" text-anchor="end" fill="#595959">7月1日</text><text class="cj" transform="translate(555.22,500.5) rotate(-45)" font-size="5.8" text-anchor="end" fill="#595959">8月1日</text><text class="cj" transform="translate(572.13,500.5) rotate(-45)" font-size="5.8" text-anchor="end" fill="#595959">9月1日</text><text class="cj" transform="translate(589.05,500.5) rotate(-45)" font-size="5.8" text-anchor="end" fill="#595959">10月1日</text><text class="cj" transform="translate(605.97,500.5) rotate(-45)" font-size="5.8" text-anchor="end" fill="#595959">11月1日</text><text class="cj" transform="translate(622.88,500.5) rotate(-45)" font-size="5.8" text-anchor="end" fill="#595959">12月1日</text>
<path d="M449.3 425.4h11.4" stroke="#5b9bd5" stroke-width="1" fill="none"/><text x="462" y="427.3" font-size="5.6" fill="#404040">2021</text><path d="M478.96 425.4h11.4" stroke="#ffc000" stroke-width="1" fill="none"/><text x="491.66" y="427.3" font-size="5.6" fill="#404040">2022</text><path d="M508.62 425.4h11.4" stroke="#a5a5a5" stroke-width="1" fill="none"/><text x="521.32" y="427.3" font-size="5.6" fill="#404040">2023</text><path d="M538.28 425.4h11.4" stroke="#ed7d31" stroke-width="1" fill="none"/><text x="550.98" y="427.3" font-size="5.6" fill="#404040">2024</text><path d="M567.94 425.4h11.4" stroke="#3f546f" stroke-width="1" fill="none"/><text x="580.64" y="427.3" font-size="5.6" fill="#404040">2025</text><path d="M597.6 425.4h11.4" stroke="#ff0000" stroke-width="1" fill="none"/><text x="610.3" y="427.3" font-size="5.6" fill="#404040">2026</text>
<text class="cj" x="293.2" y="545.6" font-size="8.2" text-anchor="middle" fill="#595959" letter-spacing="0.5">山东09合约基差(元/吨)</text>
<text x="199.7" y="553.8" font-size="5.6" text-anchor="end" fill="#595959">850</text><text x="199.7" y="559.81" font-size="5.6" text-anchor="end" fill="#595959">750</text><text x="199.7" y="565.82" font-size="5.6" text-anchor="end" fill="#595959">650</text><text x="199.7" y="571.83" font-size="5.6" text-anchor="end" fill="#595959">550</text><text x="199.7" y="577.84" font-size="5.6" text-anchor="end" fill="#595959">450</text><text x="199.7" y="583.85" font-size="5.6" text-anchor="end" fill="#595959">350</text><text x="199.7" y="589.85" font-size="5.6" text-anchor="end" fill="#595959">250</text><text x="199.7" y="595.86" font-size="5.6" text-anchor="end" fill="#595959">150</text><text x="199.7" y="601.87" font-size="5.6" text-anchor="end" fill="#595959">50</text><text x="199.7" y="607.88" font-size="5.6" text-anchor="end" fill="#595959">-50</text><text x="199.7" y="613.89" font-size="5.6" text-anchor="end" fill="#595959">-150</text><text x="199.7" y="619.9" font-size="5.6" text-anchor="end" fill="#595959">-250</text>
<path d="M205.32 582.95L206.43 583.26L207.54 585.61L208.65 583.9L209.99 587.35L211.32 585.75L212.65 586.18L213.98 586.92L215.31 585.33L216.64 584.86L217.75 583.35L218.86 582.12L219.97 579.39L221.08 580.57L222.19 577.05L223.3 577.29L224.41 574.6L225.52 572.09L226.63 572.11L227.96 575.74L229.3 577.59L230.41 577.34L231.51 574.26L232.62 573.9L233.96 573.85L235.29 575.82L236.62 577.36L237.95 574.69L239.28 575.42L240.62 571.82L241.72 572.92L242.83 575.91L243.94 577.14L245.05 576.2L246.16 572.14L247.27 572.42L248.38 570.53L249.49 572.02L250.6 570.54L251.71 573.09L252.82 575.49L253.93 577.72L255.04 577.49L256.15 581.04L257.26 579.67L258.26 579.23L259.26 573.8L260.26 577.87L261.26 580.13L262.59 577.53L263.92 575.22L265.25 579.33L266.58 581.21L267.92 580.53L269.25 578.31L270.58 578.34L271.69 575.09L272.8 576.2L273.91 574.4L275.24 576.7L276.57 575.55L277.9 574.41L279.23 571.18L280.57 574.65L281.9 579.7L283.23 577.05L284.56 574.06L286.16 563.91L287.89 570.46L288.89 572.33L289.89 577.1L291.22 580.99L292.55 581.65L293.88 578.86L295.22 581.16L296.55 577.49L297.88 579.38L299.21 584.31L300.54 582.96L301.87 580.25L303.21 582.19L304.4 581.25L305.6 582.84L306.8 582.52L308 584.19L309.11 588.61L310.21 589.79L311.32 589.31L312.65 587.72L313.98 589.23L315.31 590.75L316.65 592.84L317.98 592.19L319.31 587.48L320.64 587.64L321.97 590.92L323.31 590.77L324.64 590.33L325.97 593.35L327.3 595.19L328.63 596.53L329.96 593.09L331.3 595.36L332.63 597.61L333.96 594.62L335.29 594.2L336.29 599.65L337.29 600.17L338.22 562.07L339.24 563.52L340.26 561.04L341.28 563.54L342.28 562.18L343.28 564.5L344.28 567.47L345.28 572.01L346.61 573.72L347.94 571.62L349.27 574.04L350.38 572.55L351.49 572.44L352.6 572.82L353.71 570.1L354.82 570.96L355.93 568.51L357.26 566.2L358.6 566.72L359.93 569.02L361.26 570.28L362.59 572.61L363.92 570.99L365.25 568.81L366.36 571.76L367.47 573.19L368.58 572.26L369.92 573.11L371.25 576.25L372.58 577.4L373.69 577.79L374.8 575.05L375.91 574.83L377.24 576.41L378.57 579.99L379.9 577.55L381.01 581.44L382.12 580.5L383.23 580.26L384.56 578.64L385.9 579.73L387.23 579.43L388.34 577.98L389.45 579.66L390.56 581.54L391.89 585.53L393.22 586.95" fill="none" stroke="#a5a5a5" stroke-width="1.1" stroke-linejoin="round"/>
<path d="M205.99 597L207.32 597.2L208.65 596.14L209.76 595.36L210.87 596L211.98 594.18L213.09 594.06L214.2 595.83L215.31 595.19L216.64 596.07L217.98 594.2L219.31 591.88L220.42 590.47L221.53 587.34L222.64 584.79L223.97 583.36L225.3 585.24L226.63 583.37L227.8 583.28L228.96 582.86L230.13 582.81L231.29 582.68L232.4 585.13L233.51 585.2L234.62 583.57L235.73 586.6L236.84 585.84L237.95 589.37L239.28 589.89L240.62 591.72L241.72 590.71L242.83 588.79L243.94 586.15L245.28 584.31L246.61 583.03L247.94 584.53L249.05 583.77L250.16 584.6L251.27 583.41L252.38 581.64L253.49 583.25L254.6 584.9L255.93 583.61L257.26 584.99L258.37 582.91L259.48 585.92L260.59 588.62L261.7 590.39L262.81 589.42L263.92 589.55L265.03 591.55L266.14 591.29L267.25 593.52L268.36 592.72L269.47 592.54L270.58 594.53L271.58 597.74L272.58 598.91L274.17 593.88L275.91 599.81L276.9 595.37L277.9 589.49L279.23 588.08L280.57 587.38L281.9 589L283.23 592.44L284.56 591.52L285.89 586.25L287 585.47L288.11 581.35L289.22 576.83L290.55 574.12L291.89 572.28L293.22 574.8L294.55 578.72L295.88 571.03L297.21 566.49L298.54 569.26L299.88 574.93L300.99 577.19L302.1 575.32L303.21 579.23L304.54 577.67L305.87 579.81L306.93 586.24L308 588.75L309.11 586.27L310.21 585.54L311.32 588.38L312.65 587.46L313.98 586.32L315.31 583.62L316.65 583.05L317.98 587.06L319.31 587.62L320.64 590.7L321.97 590.59L323.31 589.96L324.64 591.7L325.97 593.17L327.3 599.04L328.63 601.31L329.96 603.89L331.07 603.31L332.18 600.72L333.29 602.28L334.62 600.33L335.96 604.79L336.96 601.07L337.95 598.57L339.29 585.75L340.28 586.15L341.28 586.63L342.62 581.19L343.61 585.21L344.61 587.06L345.61 587.19L346.61 584.85L347.94 581.81L349.27 581.58L350.61 584.24L351.94 582.39L353.27 574.55L354.6 574.42L355.93 573.11L356.93 569.51L357.93 564.24L359.26 569.57L360.26 559.61L361.26 556.13L362.26 566.18L363.26 575.27L364.59 574.29L365.92 575.25L367.03 578.04L368.14 578.77L369.25 579.05L370.36 578.1L371.47 579.06L372.58 581.58L373.58 584.3L374.58 589.67L375.58 585.29L376.57 583.48L377.68 583.17L378.79 582.9L379.9 578.86L381.01 580.34L382.12 581.36L383.23 582.13L384.34 583.9L385.45 583.52L386.56 586.03L387.56 584.63L388.56 585.33L389.89 586.44L391.22 590.84L392.55 591.72L393.89 590.94" fill="none" stroke="#5b9bd5" stroke-width="1.1" stroke-linejoin="round"/>
<path d="M205.99 585.73L206.99 589.55L207.99 592.68L209.32 587.68L210.65 585.47L211.76 588.7L212.87 588.2L213.98 591.31L215.09 589L216.2 591.73L217.31 591.4L218.42 591.59L219.53 591.41L220.64 591.32L221.97 591.26L223.3 593.6L224.63 592.43L225.97 589.61L227.3 589.24L228.63 588.25L229.96 587.82L231.29 584.92L232.49 581.76L233.69 578.64L234.82 581.7L235.95 585.35L237.29 584.99L238.62 586.28L239.95 587.29L241.28 584.71L242.61 583.76L243.94 580.27L245.28 583.61L246.61 586.66L247.94 588.36L249.27 584.51L250.6 583.05L251.93 582.8L253.27 588.17L254.6 589.39L255.6 590.31L256.6 585.72L257.93 589.91L259.26 591.37L260.59 593.07L261.92 596.68L263.25 596.7L264.59 592.85L265.92 597.83L267.25 594.08L268.58 592.71L269.91 588.13L271.24 583.68L272.24 584.59L273.24 584.51L274.35 581.74L275.46 581.63L276.57 579.18L277.68 579.2L278.79 582.06L279.9 580.55L281.23 576.26L282.56 577.64L283.56 582.6L284.56 584.63L285.56 588.96L286.56 587.79L287.89 586.71L289.22 579.98L290.33 581.6L291.44 579.93L292.55 579.64L293.66 576.8L294.77 577.61L295.88 577.59L296.99 575.85L298.1 577.19L299.21 579.79L300.32 576.53L301.43 574.65L302.54 573.54L303.87 576.98L305.2 580.73L306.6 579.48L308 579.26L309.32 574.9L310.65 578.62L311.99 584.48L312.98 587.51L313.98 592.18L315.31 593.1L316.65 596.72L317.98 599.87L319.31 599.59L320.31 599.86L321.31 603.36L322.42 602.8L323.53 601.05L324.64 596.74L325.97 599.46L327.3 600.23L328.63 600.1L329.96 599.02L331.07 599.6L332.18 602.13L333.29 601.48L334.62 602.3L335.96 600.85L336.96 598.7L337.95 594.35L339.29 584.15L340.28 587.12L341.28 588.17L342.28 588.17L343.28 585.54L344.61 588.94L345.94 592.91L347.05 592.23L348.16 591.64L349.27 592.7L350.38 592.2L351.49 591.2L352.6 590.58L353.6 590.18L354.6 586.47L355.71 585.57L356.82 584.41L357.93 583.26L359.04 584.1L360.15 586.94L361.26 587.72L362.37 590.32L363.48 590.51L364.59 591.94L365.92 591.51L367.25 589.55L368.25 590.22L369.25 586.68L370.58 586.11L371.91 587.59L372.91 585.38L373.91 581.62L375.24 580.8L376.57 580.73L377.68 580.69L378.79 578.62L379.9 578.72L381.01 579.7L382.12 578.85L383.23 581.89L384.34 582.73L385.45 584.6L386.56 583.81L387.89 584.63L389.23 581.66L390.56 583.29L391.89 584.15L392.89 588.77L393.89 588.95" fill="none" stroke="#ffc000" stroke-width="1.1" stroke-linejoin="round"/>
<path d="M205.99 582.42L207.32 583.39L208.65 580.59L209.99 579.75L211.32 582.8L212.65 582.57L213.76 585.44L214.87 586.31L215.98 588.27L217.31 591.43L218.64 592.48L219.97 590.36L221.31 592.84L222.64 589.15L223.75 590.96L224.86 593.23L225.97 591.17L227.3 588.83L228.63 587.57L229.96 585.41L231.29 589.33L232.62 589.68L233.96 588.04L235.29 589.79L236.62 588.24L237.95 587.15L239.28 586.03L240.62 588.61L241.72 586.21L242.83 586.26L243.94 584.89L245.05 587.39L246.16 584.91L247.27 588.01L248.38 589.89L249.49 588.48L250.6 590.08L251.6 587.26L252.6 585.1L253.71 589.49L254.82 588.47L255.93 592.31L257.04 589.25L258.15 591.9L259.26 589.04L260.59 591.94L261.92 589.34L263.25 590.77L264.36 591.73L265.47 592.91L266.58 595.75L267.92 594.96L269.25 593.03L270.58 594.01L271.91 592.27L273.24 590.9L274.24 589.54L275.24 587.56L276.57 591.57L277.9 594.25L279.23 594.16L280.57 593.67L281.9 592.18L283.23 592.32L284.56 590.52L285.89 589.51L287.23 588.3L288.56 586.63L289.89 590.7L291.22 591.26L292.33 593.98L293.44 592.7L294.55 592.2L295.66 594.18L296.77 591.77L297.88 589.49L298.99 593.17L300.1 593.96L301.21 594.71L302.32 592.13L303.43 589.55L304.54 588.78L305.69 589.55L306.85 589.89L308 589.11L308.66 588.85L309.99 591.46L311.32 597.66L312.43 598.14L313.54 597.68L314.65 595.66L315.98 595.5L317.31 598.11L318.64 598.82L319.98 599.36L321.31 598.43L322.64 595.29L323.97 597.49L325.08 598.42L326.19 599.08L327.3 601.73L328.63 600.77L329.96 601.54L331.3 600.2L332.41 599.37L333.51 602.52L334.62 600.04L335.96 600.16L337.29 597.22L338.62 596.15L339.95 594.46L341.28 598.93L342.62 598.21L343.95 602.38L345.28 602.65L346.28 603.44L347.28 603.72L348.61 604.08L349.94 602.83L351.27 604.13L352.6 606.02L353.71 605.2L354.82 608.83L355.93 606.45L357.26 606.32L358.6 607.42L359.93 607.34L361.26 606.7L362.59 608.64L363.92 607.79L365.25 606.58L366.59 607.72L367.92 607.82L369.08 609.03L370.25 607.12L371.41 608.92L372.58 607.71L373.74 609.07L374.91 608.14L376.07 607.1L377.24 607.99L378.57 607.5L379.9 604.79L381.23 603.97L382.57 603.52L383.9 603.77L385.23 601.61L386.34 603L387.45 602.77L388.56 606.21L389.67 604.95L390.78 605.66L391.89 604.53L392.89 606.05L393.89 606.92" fill="none" stroke="#ed7d31" stroke-width="1.1" stroke-linejoin="round"/>
<path d="M205.32 608.21L206.66 609.01L207.99 610.29L209.1 609.81L210.21 609.8L211.32 609.52L212.43 611.26L213.54 612.49L214.65 614.45L215.98 613.64L217.31 613.28L218.64 613.26L219.81 613.24L220.97 612.93L222.14 612.68L223.3 612.11L224.63 612.74L225.97 613.46L227.3 614.14L228.63 610.39L229.96 606.84L231.29 605.85L232.62 604.85L233.96 604.45L235.29 603.74L236.62 604.04L237.95 604.94L239.28 604.49L240.62 603.49L241.95 603.38L243.28 603.15L244.61 602.99L245.94 602.89L247.05 602.28L248.16 601.17L249.27 600.24L250.6 595.8L251.71 595.64L252.82 596.03L253.93 596.45L255.26 597.14L256.6 597.72L257.93 597.15L259.26 596.12L260.59 597.37L261.92 598.27L263.25 599.23L264.59 599.8L265.58 601.2L266.58 603.06L267.69 602.63L268.8 602.43L269.91 602.36L271.24 600.5L272.58 598.39L273.69 598.97L274.8 599.78L275.91 601.12L277.24 600.29L278.57 599.63L279.68 598.61L280.79 597.65L281.9 596.37L283.01 596.12L284.12 595.8L285.23 595.68L286.34 596.63L287.45 597.42L288.56 598.46L289.89 599.19L291.22 600.43L292.55 599.23L293.88 597.7L295.22 598.54L296.55 599.61L297.88 598.86L299.21 598.4L300.54 598.43L301.87 598.08L303.21 598.22L304.4 598.69L305.6 598.6L306.8 599.22L308 599.36L309.11 599.89L310.21 600.76L311.32 601.77L312.43 601.14L313.54 601.14L314.65 601.14L315.76 601.47L316.87 602.44L317.98 602.89L319.09 602.97L320.2 602.75L321.31 602.37L322.42 603.2L323.53 604.74L324.64 605.53L325.64 603.78L326.63 601.67L327.74 602.33L328.85 602.87L329.96 603.71L331.3 603.44L332.63 602.93L333.96 602.4L334.96 600.79L335.96 599.49L337.69 601.7L338.62 609.57L339.95 610.05L341.28 610.03L342.62 610.45L343.95 610.18L345.28 610.96L346.61 610.83L347.94 611.2L349.27 611.24L350.61 611.38L351.94 612.42L353.27 613.7L354.6 613.13L355.93 612.19L356.93 613.38L357.93 614.26L359.26 612.69L360.59 610.93L361.7 611.69L362.81 612.05L363.92 612.88L365.25 612.46L366.59 611.45L367.92 611.94L369.25 612L370.58 612.24L371.91 610.11L373.24 608.35L374.58 607.83L375.91 607.72L377.24 607.42L378.57 606.45L379.9 605.11L381.23 604.27L382.57 603.6L383.9 602.7L385.23 602.1L386.56 601.53L387.89 601.19L389.23 600.27L390.56 600.78L391.89 600.97L393.22 601.71L394.82 601.6" fill="none" stroke="#3f546f" stroke-width="1.1" stroke-linejoin="round"/>
<path d="M205.72 603.2L207.32 603.2" fill="none" stroke="#ff0000" stroke-width="1.1" stroke-linejoin="round"/>
<path d="M204.9 551.5V618.4M204.9 551.9h1.6M204.9 557.91h1.6M204.9 563.92h1.6M204.9 569.93h1.6M204.9 575.94h1.6M204.9 581.95h1.6M204.9 587.95h1.6M204.9 593.96h1.6M204.9 599.97h1.6M204.9 605.98h1.6M204.9 611.99h1.6M204.9 618h1.6" fill="none" stroke="#3b3838" stroke-width="1.1"/>
<path d="M204.4 603H394.8M204.9 603v-1.8M220.72 603v-1.8M236.55 603v-1.8M252.38 603v-1.8M268.2 603v-1.8M284.02 603v-1.8M299.85 603v-1.8M315.68 603v-1.8M331.5 603v-1.8M347.33 603v-1.8M363.15 603v-1.8M378.98 603v-1.8M394.8 603v-1.8" fill="none" stroke="#000" stroke-width="1.1"/>
<text class="cj" transform="translate(206.1,626.6) rotate(-45)" font-size="5.8" text-anchor="end" fill="#595959">1月1日</text><text class="cj" transform="translate(221.92,626.6) rotate(-45)" font-size="5.8" text-anchor="end" fill="#595959">2月1日</text><text class="cj" transform="translate(237.75,626.6) rotate(-45)" font-size="5.8" text-anchor="end" fill="#595959">3月1日</text><text class="cj" transform="translate(253.57,626.6) rotate(-45)" font-size="5.8" text-anchor="end" fill="#595959">4月1日</text><text class="cj" transform="translate(269.4,626.6) rotate(-45)" font-size="5.8" text-anchor="end" fill="#595959">5月1日</text><text class="cj" transform="translate(285.22,626.6) rotate(-45)" font-size="5.8" text-anchor="end" fill="#595959">6月1日</text><text class="cj" transform="translate(301.05,626.6) rotate(-45)" font-size="5.8" text-anchor="end" fill="#595959">7月1日</text><text class="cj" transform="translate(316.88,626.6) rotate(-45)" font-size="5.8" text-anchor="end" fill="#595959">8月1日</text><text class="cj" transform="translate(332.7,626.6) rotate(-45)" font-size="5.8" text-anchor="end" fill="#595959">9月1日</text><text class="cj" transform="translate(348.53,626.6) rotate(-45)" font-size="5.8" text-anchor="end" fill="#595959">10月1日</text><text class="cj" transform="translate(364.35,626.6) rotate(-45)" font-size="5.8" text-anchor="end" fill="#595959">11月1日</text><text class="cj" transform="translate(380.18,626.6) rotate(-45)" font-size="5.8" text-anchor="end" fill="#595959">12月1日</text>
<path d="M207.3 557.7h11.4" stroke="#5b9bd5" stroke-width="1" fill="none"/><text x="220" y="559.6" font-size="5.6" fill="#404040">2021</text><path d="M237.7 557.7h11.4" stroke="#ffc000" stroke-width="1" fill="none"/><text x="250.4" y="559.6" font-size="5.6" fill="#404040">2022</text><path d="M268.6 557.7h11.4" stroke="#a5a5a5" stroke-width="1" fill="none"/><text x="281.3" y="559.6" font-size="5.6" fill="#404040">2023</text><path d="M299 557.7h11.4" stroke="#ed7d31" stroke-width="1" fill="none"/><text x="311.7" y="559.6" font-size="5.6" fill="#404040">2024</text><path d="M330 557.7h11.4" stroke="#3f546f" stroke-width="1" fill="none"/><text x="342.7" y="559.6" font-size="5.6" fill="#404040">2025</text><path d="M360.6 557.7h11.4" stroke="#ff0000" stroke-width="1" fill="none"/><text x="373.3" y="559.6" font-size="5.6" fill="#404040">2026</text>
<text class="cj" x="533.2" y="545" font-size="8.2" text-anchor="middle" fill="#595959" letter-spacing="0.5">河北09合约基差(元/吨)</text>
<text x="439.5" y="552.5" font-size="5.6" text-anchor="end" fill="#595959">920</text><text x="439.5" y="558.59" font-size="5.6" text-anchor="end" fill="#595959">820</text><text x="439.5" y="564.68" font-size="5.6" text-anchor="end" fill="#595959">720</text><text x="439.5" y="570.77" font-size="5.6" text-anchor="end" fill="#595959">620</text><text x="439.5" y="576.86" font-size="5.6" text-anchor="end" fill="#595959">520</text><text x="439.5" y="582.95" font-size="5.6" text-anchor="end" fill="#595959">420</text><text x="439.5" y="589.05" font-size="5.6" text-anchor="end" fill="#595959">320</text><text x="439.5" y="595.14" font-size="5.6" text-anchor="end" fill="#595959">220</text><text x="439.5" y="601.23" font-size="5.6" text-anchor="end" fill="#595959">120</text><text x="439.5" y="607.32" font-size="5.6" text-anchor="end" fill="#595959">20</text><text x="439.5" y="613.41" font-size="5.6" text-anchor="end" fill="#595959">-80</text><text x="439.5" y="619.5" font-size="5.6" text-anchor="end" fill="#595959">-180</text>
<path d="M445.32 587.9L446.43 587.41L447.54 586.41L448.65 588.5L449.76 590.97L450.87 589.96L451.98 591.18L453.31 588.86L454.65 589.31L455.98 588.56L457.09 585.65L458.2 584.33L459.31 582.43L460.42 584.06L461.53 581.41L462.64 580.34L463.97 581.12L465.3 580.47L466.63 578.76L467.74 582.62L468.85 582.88L469.96 585.63L471.07 582.01L472.18 580.99L473.29 579.02L474.4 581.44L475.51 580.55L476.62 580.8L477.95 579.73L479.28 582.36L480.62 581.7L481.72 581.74L482.83 577.94L483.94 580.31L485.28 581.93L486.61 581.37L487.72 578.68L488.83 577.64L489.94 574.69L491.05 574.84L492.16 578.52L493.27 578.04L494.6 581.2L495.93 580.85L497.26 578.58L498.59 577.24L499.92 577.78L501.26 582.35L502.37 582.76L503.48 582.53L504.59 585.03L505.92 584.95L507.25 583.87L508.58 585.06L509.91 585.4L511.24 580.79L512.58 583.08L513.69 582.65L514.8 585.33L515.91 586.76L517.24 581.74L518.57 579.82L519.9 579.02L521.23 581.91L522.23 587.11L523.23 589.87L524.43 577.93L525.63 568.74L526.76 575.81L527.89 579.01L528.89 579.37L529.89 575.23L531.22 580.28L532.55 584L533.66 581.22L534.77 581.59L535.88 580.33L536.99 582.23L538.1 587.24L539.21 588.23L540.54 584.74L541.87 582.43L543.21 581.75L544.4 583.32L545.6 585.03L546.8 586.6L548 591.1L548.99 589.14L549.99 589.2L551.1 590.06L552.21 591.17L553.32 591.81L554.43 591.25L555.54 590.36L556.65 588.34L557.76 590.52L558.87 590.6L559.98 592.74L561.09 593.11L562.2 593.37L563.31 593.71L564.41 595.43L565.52 597.3L566.63 597.84L567.74 596.24L568.85 595.98L569.96 597.35L571.07 597.82L572.18 601.29L573.29 601.89L574.62 600.29L575.96 603.16L577.29 569.38L578.62 568.04L579.95 566.81L581.28 565.16L582.62 568.46L583.95 569.61L585.28 570.56L586.61 572.82L587.94 572.23L589.05 574.96L590.16 572.64L591.27 572.48L592.27 576.09L593.27 576.95L594.6 573.62L595.93 570.46L597.26 571.03L598.6 573.4L599.71 573.92L600.82 573.82L601.92 569.77L603.03 569.08L604.14 568.94L605.25 569.14L606.36 570.19L607.47 574.38L608.58 575.65L609.92 575.58L611.25 576.86L612.58 578.05L613.91 577.83L615.24 579.8L616.57 577.8L617.68 579.06L618.79 580.12L619.9 579.82L621.23 582L622.57 582.36L623.9 585.52L625.23 582.59L626.56 582.37L627.89 581.88L629.23 581.51L630.56 583.87L631.56 584.75L632.55 588.28" fill="none" stroke="#a5a5a5" stroke-width="1.1" stroke-linejoin="round"/>
<path d="M445.32 600.63L446.66 603.52L447.99 603.58L449.32 602.42L450.65 600.82L451.65 603.64L452.65 603.54L453.98 602.25L455.31 595.52L456.64 599.54L457.98 597.75L459.09 595.38L460.2 592.5L461.31 590.27L462.64 589.95L463.97 587.26L465.3 588.01L466.41 589.78L467.52 587.58L468.63 590.55L469.74 590.26L470.85 590.23L471.96 586.79L473.29 587.95L474.62 586.16L475.73 589.97L476.84 590.97L477.95 590.19L479.28 594.8L480.62 595.23L481.72 592.48L482.83 594.45L483.94 590.62L485.28 593.24L486.61 591.57L487.94 589.54L489.05 591.58L490.16 588.84L491.27 587.69L492.38 588.21L493.49 588.54L494.6 590.8L495.71 591.16L496.82 594.92L497.93 593.93L499.26 592.84L500.59 592.63L501.92 595.55L503.03 594.18L504.14 598.64L505.25 598.34L506.36 598.33L507.47 598.8L508.58 598.29L509.69 602.4L510.8 601.69L511.91 603.22L513.24 601.59L514.57 599.34L515.91 604.98L516.9 598.43L517.9 593.51L519.23 592.12L520.57 589.12L521.9 593.36L523.23 594.78L524.23 592.42L525.23 591.79L526.56 587.82L527.89 581.31L529.22 575.71L530.55 573.62L531.89 575.7L533.22 578.45L534.33 575.89L535.44 575.67L536.55 571.78L537.66 572.65L538.77 575.25L539.88 577.09L540.99 577.1L542.1 577.84L543.21 580.87L544.4 580.04L545.6 583.49L546.8 583.42L548 584.62L549.11 586.99L550.21 587.09L551.32 592.51L552.43 588.07L553.54 588.14L554.65 587.94L555.76 588.93L556.87 592.22L557.98 592.31L559.09 594.31L560.2 593.62L561.31 594.47L562.42 597.07L563.53 597.96L564.64 599.17L565.97 602.82L567.3 603.28L568.63 608.78L569.96 610.3L571.3 608.56L572.63 608.92L573.63 610.06L574.62 611.92L575.62 608.38L576.62 603.61L577.62 596.99L578.62 593.49L579.62 592.4L580.62 592.61L581.62 586.77L582.62 581.37L583.95 582.63L585.28 585.79L586.44 583.19L587.61 581.31L588.77 580.21L589.94 581.14L591.27 587.08L592.6 574.48L593.6 575.09L594.6 576.94L595.6 570.56L596.6 557.6L597.6 560.93L598.6 564.19L599.59 557.01L600.59 552.05L601.92 570.33L602.92 578.87L603.92 582.23L605.25 579.86L606.59 577.67L607.92 582.23L609.25 582.63L610.36 585.75L611.47 586.75L612.58 590.87L613.58 592.12L614.58 597.36L615.58 592.23L616.57 589.05L617.68 588.04L618.79 585.61L619.9 582.2L621.01 584.42L622.12 587.01L623.23 587.73L624.56 590.38L625.9 591.23L626.89 589.98L627.89 590.9L628.89 595.12L629.89 596.2L631 598.37L632.11 595.89L633.22 596.27" fill="none" stroke="#5b9bd5" stroke-width="1.1" stroke-linejoin="round"/>
<path d="M445.32 594.98L446.32 597.43L447.32 601.09L448.65 597.16L449.99 592.69L451.1 590.78L452.21 591.4L453.31 590.96L454.42 593.43L455.53 592.93L456.64 596.32L457.75 592.87L458.86 594.71L459.97 592.22L461.14 593.76L462.3 594.71L463.47 599.61L464.63 599.46L465.97 595.17L467.3 592.01L468.41 591.29L469.52 587.32L470.63 587.35L471.65 583.63L472.67 583.59L473.69 581.92L475.15 585.1L476.62 590.74L477.95 589.47L479.28 585L480.62 585.72L481.72 585.01L482.83 586.73L483.94 588.19L485.28 586.71L486.61 587.59L487.72 586.45L488.83 588.67L489.94 586.55L491.05 585.89L492.16 584.23L493.27 585.54L494.6 585.84L495.93 582.35L497.26 588.2L498.59 591.29L499.92 591.09L501.26 592.79L502.59 593.84L503.92 590.86L505.25 595.41L506.58 597.75L507.69 595.04L508.8 593.87L509.91 594.6L510.91 589.11L511.91 586.9L513.02 587.78L514.13 587.24L515.24 590.33L516.57 582.43L517.9 580.87L519.01 577.69L520.12 581.59L521.23 579.36L522.56 583.49L523.9 590.65L525.23 590.49L526.56 588.64L527.89 585.18L529.22 582.11L530.33 580.01L531.44 579.5L532.55 580.21L533.88 578.55L535.22 579.25L536.55 576.8L537.66 579.24L538.77 579.82L539.88 580.19L541.21 579.39L542.54 579.13L543.87 581.17L545.2 584.22L546.6 584.02L548 583.53L548.66 576.21L549.65 583.16L550.65 587.5L551.99 590.35L553.32 596.79L554.65 598.17L555.98 600.26L557.31 600.43L558.64 604.14L559.64 606.72L560.64 608.72L561.97 603.61L563.31 598.41L564.64 598.85L565.97 602.61L567.3 601.58L568.63 600.93L569.96 603.22L571.3 604.4L572.63 604.94L573.96 600.17L575.29 601.77L576.62 598.31L578.35 584.85L579.49 588.77L580.62 591.18L581.62 589.62L582.62 588.73L583.95 589.97L585.28 592.46L586.61 592.25L587.94 591.62L589.27 593.55L590.61 595.01L591.94 588.83L593.27 585.31L594.6 583.01L595.93 579.22L597.26 580.52L598.6 586.23L599.71 586.11L600.82 590.33L601.92 588.18L603.26 592.13L604.59 593.19L605.92 592.23L607.25 589.29L608.36 589.63L609.47 588.79L610.58 588.08L611.91 584.27L613.24 579.65L614.35 579.54L615.46 579.76L616.57 579.99L617.68 579.84L618.79 579.72L619.9 580.14L621.01 579.64L622.12 584.14L623.23 585.11L624.34 583L625.45 583.68L626.56 583.69L627.67 583.9L628.78 583.37L629.89 581.81L631.22 585.46L632.55 589.61" fill="none" stroke="#ffc000" stroke-width="1.1" stroke-linejoin="round"/>
<path d="M445.32 585.57L446.35 587.59L447.37 583L448.39 584.41L449.59 585.72L450.78 583.72L451.98 585.67L453.09 585.86L454.2 586.57L455.31 588.47L456.64 592.65L457.98 594.22L459.09 594.01L460.2 593.5L461.31 591.89L462.41 590.24L463.52 591.6L464.63 592.26L465.8 593.06L466.96 591.63L468.13 590.01L469.3 587.63L470.41 589.68L471.51 586.26L472.62 586.47L473.73 586.62L474.84 589.54L475.95 591.15L477.06 591.79L478.17 592.98L479.28 592.87L480.62 592.48L481.95 590.34L483.28 592.29L484.61 593.23L485.94 592.37L487.27 593.07L488.61 593.66L489.94 594.08L491.27 593.7L492.6 594.92L493.93 595.08L495.26 593.84L496.6 596.58L497.93 594.76L499.26 596.03L500.59 597.95L501.92 596.91L503.25 596.93L504.59 597.83L505.92 599.18L507.25 598.6L508.36 600.34L509.47 600.65L510.58 600.5L511.91 595.21L513.24 590.01L514.24 591.43L515.24 586.92L516.57 595.49L517.9 599.34L519.01 597.16L520.12 596.2L521.23 597.57L522.34 593.59L523.45 593.54L524.56 591.12L525.89 589.41L527.23 588.88L528.33 591.59L529.44 590.29L530.55 594.65L531.66 593.93L532.77 592.15L533.88 593.57L534.99 592.22L536.1 594.13L537.21 596.28L538.32 597.09L539.43 595.68L540.54 592.92L541.87 595.53L543.21 591.49L544.54 591.35L545.69 592.6L546.85 590.47L548 592.01L548.99 592.06L549.99 594.13L551.1 595.42L552.21 597.49L553.32 599.13L554.43 600.18L555.54 601.59L556.65 601.36L557.76 602.61L558.87 602.52L559.98 603.96L561.09 600.93L562.2 600.98L563.31 599.61L564.41 599.5L565.52 601.5L566.63 603.76L567.97 603.54L569.3 604.15L570.63 602.88L571.96 604.72L573.29 601.68L574.62 604.16L575.73 601.15L576.84 599.74L577.95 599.12L578.95 600.48L579.95 598.17L581.28 601.8L582.62 603.71L583.72 603.67L584.83 606.64L585.94 605.58L587.11 607.41L588.27 604.24L589.44 603.73L590.61 604.1L591.72 605.85L592.82 608.25L593.93 609.73L595.04 609.36L596.15 611.13L597.26 607.53L598.6 607.35L599.93 610.41L601.26 609.03L602.59 609.45L603.92 609.74L605.25 609.53L606.59 610.01L607.92 612.02L609.25 610.65L610.58 608.11L611.91 612.53L613.24 612.1L614.58 612.2L615.91 609.12L617.24 609.72L618.57 607.94L619.9 609.48L621.23 608.23L622.34 605.99L623.45 608.19L624.56 606.26L625.67 607.16L626.78 606.6L627.89 608.64L629 607.58L630.11 608.32L631.22 608.14L632.22 605.79L633.22 608.26" fill="none" stroke="#ed7d31" stroke-width="1.1" stroke-linejoin="round"/>
<path d="M445.32 610.1L446.43 610.65L447.54 611.35L448.65 611.57L449.99 610.43L451.32 609.66L452.43 611.03L453.54 612.75L454.65 614.14L455.98 613.29L457.31 611.76L458.64 610.83L459.97 611.18L461.31 610.67L462.64 610.87L463.8 611.9L464.97 613.18L466.13 614.45L467.3 615.77L468.63 612.19L469.96 608.18L471.29 608.19L472.62 607.79L473.96 607.42L475.29 606.79L476.62 606.15L477.95 605.55L479.06 605L480.17 604L481.28 602.76L482.39 604.09L483.5 605.02L484.61 606.16L485.94 604.93L487.27 602.89L488.61 601.7L489.6 600.7L490.6 599.13L491.71 599.97L492.82 601.02L493.93 601.41L495.1 600.85L496.26 600.11L497.43 599.83L498.59 599.07L499.7 599.98L500.81 600.58L501.92 601.44L503.03 602.06L504.14 601.88L505.25 602.14L506.25 603.68L507.25 605.73L508.36 604.67L509.47 603.62L510.58 602.73L511.91 602.24L513.24 601.41L514.35 601.97L515.46 602.92L516.57 603.62L517.68 603.4L518.79 603.4L519.9 602.74L521.01 601.56L522.12 600.47L523.23 599.65L524.23 599.03L525.23 598.15L526.34 598.76L527.45 598.89L528.56 599.44L529.67 600.8L530.78 602.05L531.89 603.5L533.22 602.14L534.55 600.89L535.88 601.81L537.21 602.37L538.32 603.11L539.43 603.39L540.54 604.38L541.87 603.97L543.21 604.06L544.54 603.65L545.69 604.15L546.85 604.54L548 604.73L549.33 605.25L550.66 605.62L551.99 606.16L553.32 606.19L554.65 605.75L555.98 605.44L557.31 606.22L558.64 606.35L559.98 606.76L561.31 607.07L562.64 607.28L563.97 607.61L565.3 605.69L566.63 603.71L567.74 604.09L568.85 604.47L569.96 604.84L571.3 604.14L572.63 603.29L573.96 602.43L574.96 601.69L575.96 601.09L577.29 610.05L578.62 610.37L579.95 610.59L581.28 610.99L582.45 611.46L583.61 611.66L584.78 611.78L585.94 612.29L587.11 611.9L588.27 611.94L589.44 611.47L590.61 611.72L591.94 613.19L593.27 614.12L594.6 614.01L595.93 613.4L597.26 614.35L598.6 615.62L599.71 614.65L600.82 614.2L601.92 613.57L603.03 614.64L604.14 615.6L605.25 616.23L606.59 614.64L607.92 613.51L609.25 614.04L610.58 614.92L611.58 612.81L612.58 610.84L613.91 610.93L615.24 610.86L616.57 610.75L617.91 610.03L619.24 608.61L620.57 607.46L621.9 606.43L623.23 605.54L624.56 604.2L625.67 603.77L626.78 603.89L627.89 603.72L629.23 603.89L630.56 604L631.89 604.14L632.89 604L633.89 604.26" fill="none" stroke="#3f546f" stroke-width="1.1" stroke-linejoin="round"/>
<path d="M445.46 606.39L447.06 606.39" fill="none" stroke="#ff0000" stroke-width="1.1" stroke-linejoin="round"/>
<path d="M444.7 550.2V618M444.7 550.6h1.6M444.7 556.69h1.6M444.7 562.78h1.6M444.7 568.87h1.6M444.7 574.96h1.6M444.7 581.05h1.6M444.7 587.15h1.6M444.7 593.24h1.6M444.7 599.33h1.6M444.7 605.42h1.6M444.7 611.51h1.6M444.7 617.6h1.6" fill="none" stroke="#3b3838" stroke-width="1.1"/>
<path d="M444.2 606.4H633.9M444.7 606.4v-1.8M460.47 606.4v-1.8M476.23 606.4v-1.8M492 606.4v-1.8M507.77 606.4v-1.8M523.53 606.4v-1.8M539.3 606.4v-1.8M555.07 606.4v-1.8M570.83 606.4v-1.8M586.6 606.4v-1.8M602.37 606.4v-1.8M618.13 606.4v-1.8M633.9 606.4v-1.8" fill="none" stroke="#000" stroke-width="1.1"/>
<text class="cj" transform="translate(445.9,626.2) rotate(-45)" font-size="5.8" text-anchor="end" fill="#595959">1月1日</text><text class="cj" transform="translate(461.67,626.2) rotate(-45)" font-size="5.8" text-anchor="end" fill="#595959">2月1日</text><text class="cj" transform="translate(477.43,626.2) rotate(-45)" font-size="5.8" text-anchor="end" fill="#595959">3月1日</text><text class="cj" transform="translate(493.2,626.2) rotate(-45)" font-size="5.8" text-anchor="end" fill="#595959">4月1日</text><text class="cj" transform="translate(508.97,626.2) rotate(-45)" font-size="5.8" text-anchor="end" fill="#595959">5月1日</text><text class="cj" transform="translate(524.73,626.2) rotate(-45)" font-size="5.8" text-anchor="end" fill="#595959">6月1日</text><text class="cj" transform="translate(540.5,626.2) rotate(-45)" font-size="5.8" text-anchor="end" fill="#595959">7月1日</text><text class="cj" transform="translate(556.27,626.2) rotate(-45)" font-size="5.8" text-anchor="end" fill="#595959">8月1日</text><text class="cj" transform="translate(572.03,626.2) rotate(-45)" font-size="5.8" text-anchor="end" fill="#595959">9月1日</text><text class="cj" transform="translate(587.8,626.2) rotate(-45)" font-size="5.8" text-anchor="end" fill="#595959">10月1日</text><text class="cj" transform="translate(603.57,626.2) rotate(-45)" font-size="5.8" text-anchor="end" fill="#595959">11月1日</text><text class="cj" transform="translate(619.33,626.2) rotate(-45)" font-size="5.8" text-anchor="end" fill="#595959">12月1日</text>
<path d="M450.3 548.9h11.4" stroke="#5b9bd5" stroke-width="1" fill="none"/><text x="463" y="550.8" font-size="5.6" fill="#404040">2021</text><path d="M480.3 548.9h11.4" stroke="#ffc000" stroke-width="1" fill="none"/><text x="493" y="550.8" font-size="5.6" fill="#404040">2022</text><path d="M509.9 548.9h11.4" stroke="#a5a5a5" stroke-width="1" fill="none"/><text x="522.6" y="550.8" font-size="5.6" fill="#404040">2023</text><path d="M539 548.9h11.4" stroke="#ed7d31" stroke-width="1" fill="none"/><text x="551.7" y="550.8" font-size="5.6" fill="#404040">2024</text><path d="M569 548.9h11.4" stroke="#3f546f" stroke-width="1" fill="none"/><text x="581.7" y="550.8" font-size="5.6" fill="#404040">2025</text><path d="M598.3 548.9h11.4" stroke="#ff0000" stroke-width="1" fill="none"/><text x="611" y="550.8" font-size="5.6" fill="#404040">2026</text>
<text class="cj" x="290.7" y="656.2" font-size="8.2" text-anchor="middle" fill="#595959" letter-spacing="0.5">山东05合约基差(元/吨)</text>
<text x="193.1" y="663.6" font-size="5.6" text-anchor="end" fill="#595959">800</text><text x="193.1" y="670.26" font-size="5.6" text-anchor="end" fill="#595959">700</text><text x="193.1" y="676.92" font-size="5.6" text-anchor="end" fill="#595959">600</text><text x="193.1" y="683.58" font-size="5.6" text-anchor="end" fill="#595959">500</text><text x="193.1" y="690.24" font-size="5.6" text-anchor="end" fill="#595959">400</text><text x="193.1" y="696.9" font-size="5.6" text-anchor="end" fill="#595959">300</text><text x="193.1" y="703.56" font-size="5.6" text-anchor="end" fill="#595959">200</text><text x="193.1" y="710.22" font-size="5.6" text-anchor="end" fill="#595959">100</text><text x="193.1" y="716.88" font-size="5.6" text-anchor="end" fill="#595959">0</text><text x="193.1" y="723.54" font-size="5.6" text-anchor="end" fill="#595959">-100</text><text x="193.1" y="730.2" font-size="5.6" text-anchor="end" fill="#595959">-200</text>
<path d="M198.66 702.38L199.77 703.24L200.88 706.92L201.99 707.13L203.1 707.67L204.21 705.87L205.31 706.89L206.42 707.97L207.53 707.58L208.64 709.57L209.75 705.81L210.86 703.95L211.97 704.79L213.08 703.51L214.19 700.83L215.3 698.28L216.41 694.37L217.52 693.9L218.63 694.42L219.96 689.55L221.3 689.06L222.29 693.15L223.29 700.22L224.4 697.77L225.51 697.26L226.62 698.44L227.73 701.17L228.84 700.24L229.95 701.36L231.28 700.76L232.62 700.02L233.95 698.37L235.28 694.02L236.61 693.77L237.94 696.43L239.05 700.18L240.16 699.6L241.27 701.74L242.6 698.56L243.93 697.92L245.27 693.34L246.38 697.48L247.49 699.58L248.6 701.45L249.71 701.28L250.82 702.03L251.92 704.84L253.03 705.45L254.14 704.23L255.25 706.29L256.59 707.41L257.92 707.48L259.25 705.29L260.58 707.53L261.91 709.34L263.24 709.93L264.58 708.93L265.91 709.03L267.24 711.26L268.57 711.37L269.9 707.02L271.5 707.14L272.57 683.65L273.57 681.86L274.56 681.61L275.9 685.33L277.23 687.19L278.34 685.19L279.45 682.71L280.56 680.8L281.56 676.59L282.55 671.86L283.55 677.55L284.55 686.16L285.88 688.49L287.22 690.55L288.33 689.9L289.44 689.33L290.54 689.32L291.65 689.39L292.76 686.6L293.87 686.89L294.98 686.79L296.09 684.33L297.2 682.24L298.6 686.39L300 685.59L300.99 682.41L302.32 678.38L303.66 677.01L304.99 679.23L306.32 681.18L307.43 679.02L308.54 679.6L309.65 677.82L310.98 678.74L312.31 683.83L313.64 682.05L314.98 679.87L316.31 682.26L317.64 683.9L318.97 680.62L320.3 676.33L321.41 680.24L322.52 680.31L323.63 685.74L324.74 683L325.85 682.04L326.96 680.69L328.29 681.83L329.62 683.89L330.73 679.69L331.84 675.8L332.95 673.21L334.29 676.72L335.62 677.91L336.73 678.95L337.84 680.83L338.95 679.44L340.28 677.83L341.61 678.23L342.61 683.19L343.61 688.08L344.94 689.95L346.27 687.62L347.38 690.52L348.49 690.98L349.6 690.74L350.6 689.9L351.6 685.13L352.71 687.55L353.82 687.46L354.93 686.39L355.93 687.09L356.92 682.6L357.92 687.5L358.92 690.19L360.25 689.49L361.59 689.65L362.92 687.65L364.25 689.81L365.36 692.33L366.47 693.26L367.58 693.01L368.69 693.9L369.8 693.63L370.91 693.89L372.02 696.42L373.13 694.8L374.24 694.48L375.35 694.09L376.46 697.09L377.57 697.39L378.68 698.43L379.79 700.01L380.9 699.43L382.01 699.86L383.12 696.85L384.23 698.74L385.56 697.36L386.89 696.31L388.22 698.03L389.33 697.03L390.44 697.1L391.55 696.82L392.88 700.12L394.21 707.6" fill="none" stroke="#a5a5a5" stroke-width="1.1" stroke-linejoin="round"/>
<path d="M198.66 717.58L199.99 716.95L201.32 717.88L202.32 717.5L203.32 716.46L204.32 716.14L205.31 718.92L206.65 707.35L207.98 712.16L209.31 714.09L210.42 711.84L211.53 714.57L212.64 712.78L213.64 711.81L214.64 715.67L215.75 712.34L216.86 708.38L217.97 703.5L219.3 705.61L220.63 706.92L221.96 706.16L223.07 704.31L224.18 706.08L225.29 704.6L226.62 703.37L227.95 700.15L229.06 700.16L230.17 697.76L231.28 698.18L232.28 699.48L233.28 700.93L234.61 705.52L235.94 707.53L237.28 706.89L238.61 707.93L239.94 707.29L241.05 707.57L242.16 704.99L243.27 704.94L244.38 703.92L245.49 703.86L246.6 702.99L247.71 704.68L248.82 704.23L249.93 702.46L251.04 703.97L252.15 706.9L253.26 708.3L254.37 705.94L255.48 707.73L256.59 706.82L257.92 707.75L259.25 707.01L260.36 706.48L261.47 710.35L262.58 713.56L263.69 711.46L264.8 710.37L265.91 712.51L267.02 711.34L268.13 710.27L269.24 709.37L270.57 705.1L271.9 703.28L273.23 700.09L274.56 692.68L275.67 690.87L276.78 692.19L277.89 689.97L279 691.85L280.11 691.69L281.22 690.07L282.33 688.98L283.44 687.71L284.55 684.18L285.55 679.97L286.55 677.03L287.55 676.19L288.55 673.4L289.88 673.74L291.21 676.1L292.68 670.6L294.14 665.14L295.34 669.73L296.54 672.24L297.69 674.1L298.85 675.99L300 681.03L300.99 681.08L302.1 678.42L303.21 682.28L304.32 683.06L305.43 685.12L306.54 683.68L307.65 687.52L308.98 684.52L310.31 683.31L311.65 683.71L312.76 681.72L313.87 684.23L314.98 680.9L316.09 684.46L317.2 685.16L318.31 688.48L319.41 690.06L320.52 688.18L321.63 690.99L322.97 689.53L324.3 694.52L325.41 694.69L326.52 699.29L327.63 700.97L328.63 699.92L329.62 694.68L330.73 697.56L331.84 701.42L332.95 703.33L334.06 703.56L335.17 704.31L336.28 708.07L337.28 710.3L338.28 710.84L339.28 708.93L340.28 706.46L341.28 707.88L342.28 703.75L343.61 715.15L344.61 709.18L345.61 705.88L346.94 704.32L348.27 706.63L349.6 705.53L350.6 708.83L351.6 713.57L352.93 695.43L353.93 694.11L354.93 687.8L355.93 683.37L356.92 679.31L358.26 684.04L359.59 663.98L361.32 672.33L362.25 691.93L363.58 692.09L364.92 689.39L366.25 693.37L367.58 694.34L368.69 695.54L369.8 693.4L370.91 694.05L372.24 698.21L373.57 699.22L374.9 708.3L376.23 695.79L377.34 696.79L378.45 695.93L379.56 695.51L380.9 696.22L382.23 695.47L383.34 697.56L384.45 700.82L385.56 702.24L386.89 701.41L388.22 700.19L389.55 703.51L390.88 708.99L391.88 705.49L392.88 704.67L394.61 708.27" fill="none" stroke="#5b9bd5" stroke-width="1.1" stroke-linejoin="round"/>
<path d="M198.66 704.55L199.99 705.25L201.32 710.68L202.65 708.21L203.98 707.08L205.09 707.44L206.2 708.32L207.31 710.14L208.64 713.02L209.98 712.63L211.09 713.83L212.2 712.34L213.31 710.87L214.64 713.08L215.97 714.68L217.3 715.49L218.41 712.65L219.52 711.85L220.63 709.07L221.74 706.4L222.85 703.25L223.96 702.33L225.29 700.95L226.62 700.58L227.62 700.03L228.62 694.49L229.95 699.99L231.28 702.47L232.62 704.36L233.95 708.81L235.06 707.04L236.17 705.79L237.28 706.72L238.61 704.3L239.94 701.76L241.27 701.29L242.6 702.47L243.71 702.05L244.82 700.51L245.93 696.83L247.26 699.43L248.6 700.74L249.93 703.06L251.26 707.19L252.37 708.81L253.48 706.9L254.59 706.43L255.92 711.01L257.25 713.28L258.36 715.45L259.47 713.61L260.58 715.08L261.69 712.72L262.8 712.31L263.91 711.79L265.24 710.74L266.57 708.01L267.57 706.34L268.57 702.58L269.57 702.76L270.57 704.97L271.57 689.72L272.57 675.26L273.68 676.71L274.79 676.08L275.9 675.9L277.01 675L278.12 675.63L279.23 674.59L280.22 677.5L281.22 678.62L282.55 681.46L283.89 682.18L285.22 682.46L286.55 677.38L287.88 678.29L289.21 682.34L290.54 676.87L291.88 674.23L292.99 673.91L294.1 673.45L295.21 675.34L296.54 678.84L297.87 682.86L298.93 681.97L300 680.65L301.66 685.73L302.99 682.48L304.32 682.82L305.65 681.38L306.99 681.97L308.32 686.14L309.65 692.04L310.65 693.09L311.65 697.99L312.65 698.76L313.64 694.23L314.98 701.84L316.31 707.47L317.64 711.76L318.97 713.98L320.3 709.31L321.63 704.69L322.63 704.85L323.63 709.62L324.96 706.65L326.3 705.19L327.63 704.93L328.96 706.8L330.07 705.84L331.18 707.83L332.29 705.07L333.62 703.95L334.95 706.43L336.28 705.51L337.62 701.34L338.95 703.22L340.28 705.96L341.88 701.52L343.61 712.84L344.94 711.83L346.27 713.71L347.38 712.49L348.49 710.23L349.6 711.26L350.93 707.35L352.26 703.92L353.6 702.56L354.93 701.28L356.26 702.71L357.59 700.3L358.92 701.17L360.25 701.04L361.36 701.47L362.47 702.94L363.58 706.18L364.69 705.3L365.8 700.8L366.91 701.31L368.24 699.16L369.58 699.48L370.91 701.88L372.24 701.75L373.24 698.74L374.24 693.1L375.57 695.77L376.9 698.93L378.01 699.02L379.12 694.71L380.23 693.15L381.56 696.8L382.89 700.92L384 702.6L385.11 702.38L386.22 704.66L387.55 704.26L388.89 701.58L390.22 699.54L391.55 697.63L392.88 702.66L394.21 707.6" fill="none" stroke="#ffc000" stroke-width="1.1" stroke-linejoin="round"/>
<path d="M198.66 704.87L199.77 702.5L200.88 701.92L201.99 699.45L203.32 701.23L204.65 701.03L205.98 700.88L207.31 705.99L208.64 708.05L209.98 711.71L211.31 714.31L212.42 713.48L213.53 709.62L214.64 708.84L215.75 711.99L216.86 712.46L217.97 714.71L219.3 713.34L220.63 708.13L221.96 706.6L223.29 707.57L224.62 707.35L225.96 704.52L227.29 707.3L228.62 708.81L229.95 709.49L231.28 710.25L232.62 709.36L233.95 708.98L235.06 707.53L236.17 703.3L237.28 704.79L238.61 704.4L239.94 703.01L241.27 700.33L242.38 702.09L243.49 703.93L244.6 707.37L245.71 706.73L246.82 707.81L247.93 704.48L249.04 707.2L250.15 710.21L251.26 710.01L252.59 712.8L253.92 711.84L255.25 712.39L256.36 712.19L257.47 710.41L258.58 710.37L259.92 710.31L261.25 711.52L262.58 709.77L263.91 709.98L265.24 710.04L266.57 712.84L267.68 712.02L268.79 709.26L269.9 706.92L271.23 702.01L272.57 698.22L273.9 695.47L275.23 694.16L276.56 695.24L277.89 693.12L279.23 691.23L280.56 690.25L281.89 689.55L283.22 689.56L284.55 690.54L285.88 694.53L287.22 695.69L288.33 694.83L289.44 695.01L290.54 695.64L291.88 693.75L293.21 694.03L294.54 693.31L295.65 692.84L296.76 694.38L297.87 697.18L298.93 698.2L300 694.91L300.99 694.9L302.1 692.23L303.21 693.65L304.32 691.54L305.65 694.39L306.99 694.67L307.98 698.12L308.98 702.18L310.09 703.17L311.2 700.94L312.31 700.12L313.42 703.62L314.53 700.8L315.64 702.93L316.97 704.26L318.31 702.51L319.64 702.06L320.97 702.39L322.3 700.46L323.63 702L324.96 701.66L326.3 702.89L327.63 705.63L328.96 706.83L330.29 704.91L331.62 705.27L332.95 706.51L334.29 706.4L335.62 707.55L336.73 709.21L337.84 707.64L338.95 710.22L340.06 710.59L341.17 714.45L342.28 714.76L343.61 716.83L344.94 719.41L346.05 716.8L347.16 714.9L348.27 715.12L349.6 715.25L350.93 715.6L352.26 717.67L353.6 721.62L354.93 720.99L356.26 720.71L357.59 721.2L358.7 719.54L359.81 723.51L360.92 722.59L362.03 722.78L363.14 721.96L364.25 725.28L365.36 724.52L366.47 720.26L367.58 719.5L368.91 721.89L370.24 720.61L371.57 718.67L372.91 719.53L374.24 720.5L375.57 721.33L376.9 720.81L378.23 718.69L379.56 718.77L380.9 717.8L382.23 714.15L383.34 715.56L384.45 716.72L385.56 713.12L386.89 716.25L388.22 715.91L389.55 718.51L390.88 718.47L391.99 718.77L393.1 717.59L394.21 716.92" fill="none" stroke="#ed7d31" stroke-width="1.1" stroke-linejoin="round"/>
<path d="M198.66 720.08L199.99 718.87L201.32 717.38L202.65 718.01L203.98 718.96L205.09 720.6L206.2 722.41L207.31 724.08L208.64 724.03L209.98 723.46L211.31 722.91L212.64 722.6L213.97 722.06L215.3 721.97L216.63 721.69L217.97 721.56L219.3 721.7L220.63 722.09L221.96 722.1L223.07 719.98L224.18 717.67L225.29 715.4L226.4 714.39L227.51 713.56L228.62 712.28L229.95 712.53L231.28 712.88L232.62 713.43L233.95 713.22L235.28 712.42L236.61 711.64L237.78 711.96L238.94 712.47L240.11 712.36L241.27 713.05L242.38 712.24L243.49 711.03L244.6 710.36L245.93 710.6L247.26 711.25L248.6 711.49L249.93 710.75L251.26 710.56L252.59 709.48L253.7 709L254.81 708.57L255.92 708.27L257.03 708.75L258.14 709.33L259.25 710.21L260.36 712.02L261.47 713.52L262.58 715.8L263.91 715.58L265.24 716.05L266.57 716.45L267.68 714.88L268.79 713.38L269.9 711.79L271.23 710.37L272.57 708.97L273.9 707.63L275.23 706.45L276.56 705.82L277.89 704.53L279 705.02L280.11 705.06L281.22 705.43L282.55 707.63L283.89 709.8L285 710.22L286.11 710.78L287.22 711.56L288.33 710.78L289.44 709.21L290.54 708.23L291.65 709.05L292.76 709.45L293.87 710.25L294.98 709.43L296.09 709.12L297.2 708.1L298.6 708.38L300 708.9L300.99 707.05L302.1 708L303.21 708.97L304.32 709.57L305.65 711.14L306.99 713.16L308.32 715.03L309.43 715.57L310.54 716.37L311.65 716.91L312.76 716.5L313.87 716.29L314.98 715.55L316.09 716.94L317.2 718.25L318.31 719.79L319.41 720.06L320.52 719.95L321.63 720.23L322.74 719.73L323.85 719.13L324.96 718.89L326.07 719.42L327.18 719.73L328.29 720.26L329.62 719.71L330.96 719.83L332.29 719.38L333.62 718.72L334.95 719.47L336.28 720.38L337.62 721.08L338.95 721.64L340.28 722L341.61 722.93L342.78 722.64L343.94 722.7L345.11 722.77L346.27 722.97L347.38 722.82L348.49 722.69L349.6 722.91L350.93 723.72L352.26 724.14L353.37 723.98L354.48 723.06L355.59 722.92L356.59 723.96L357.59 725.67L358.92 724.08L360.25 723.09L361.36 723.77L362.47 724.19L363.58 724.71L364.69 724.03L365.8 723.86L366.91 722.91L368.02 723.57L369.13 724.05L370.24 724.15L371.57 722.69L372.91 720.93L374.02 720.97L375.13 720.83L376.23 720.89L377.34 720.54L378.45 719.72L379.56 718.93L380.67 717.31L381.78 715.76L382.89 714.24L384.23 714.14L385.56 713.89L386.89 713.7L388.22 714L389.55 713.84L390.88 714.37L392.13 714.32L393.37 714.24L394.61 714.26" fill="none" stroke="#3f546f" stroke-width="1.1" stroke-linejoin="round"/>
<path d="M199.59 717.59L200.65 715.59" fill="none" stroke="#ff0000" stroke-width="1.1" stroke-linejoin="round"/>
<path d="M198.3 661.3V728.7M198.3 661.7h1.6M198.3 668.36h1.6M198.3 675.02h1.6M198.3 681.68h1.6M198.3 688.34h1.6M198.3 695h1.6M198.3 701.66h1.6M198.3 708.32h1.6M198.3 714.98h1.6M198.3 721.64h1.6M198.3 728.3h1.6" fill="none" stroke="#3b3838" stroke-width="1.1"/>
<path d="M197.8 715.2H394.9M198.3 715.2v-1.8M214.68 715.2v-1.8M231.07 715.2v-1.8M247.45 715.2v-1.8M263.83 715.2v-1.8M280.22 715.2v-1.8M296.6 715.2v-1.8M312.98 715.2v-1.8M329.37 715.2v-1.8M345.75 715.2v-1.8M362.13 715.2v-1.8M378.52 715.2v-1.8M394.9 715.2v-1.8" fill="none" stroke="#000" stroke-width="1.1"/>
<text class="cj" transform="translate(199.5,736.9) rotate(-45)" font-size="5.8" text-anchor="end" fill="#595959">1月1日</text><text class="cj" transform="translate(215.88,736.9) rotate(-45)" font-size="5.8" text-anchor="end" fill="#595959">2月1日</text><text class="cj" transform="translate(232.27,736.9) rotate(-45)" font-size="5.8" text-anchor="end" fill="#595959">3月1日</text><text class="cj" transform="translate(248.65,736.9) rotate(-45)" font-size="5.8" text-anchor="end" fill="#595959">4月1日</text><text class="cj" transform="translate(265.03,736.9) rotate(-45)" font-size="5.8" text-anchor="end" fill="#595959">5月1日</text><text class="cj" transform="translate(281.42,736.9) rotate(-45)" font-size="5.8" text-anchor="end" fill="#595959">6月1日</text><text class="cj" transform="translate(297.8,736.9) rotate(-45)" font-size="5.8" text-anchor="end" fill="#595959">7月1日</text><text class="cj" transform="translate(314.18,736.9) rotate(-45)" font-size="5.8" text-anchor="end" fill="#595959">8月1日</text><text class="cj" transform="translate(330.57,736.9) rotate(-45)" font-size="5.8" text-anchor="end" fill="#595959">9月1日</text><text class="cj" transform="translate(346.95,736.9) rotate(-45)" font-size="5.8" text-anchor="end" fill="#595959">10月1日</text><text class="cj" transform="translate(363.33,736.9) rotate(-45)" font-size="5.8" text-anchor="end" fill="#595959">11月1日</text><text class="cj" transform="translate(379.72,736.9) rotate(-45)" font-size="5.8" text-anchor="end" fill="#595959">12月1日</text>
<path d="M208 660.9h11.4" stroke="#5b9bd5" stroke-width="1" fill="none"/><text x="220.7" y="662.8" font-size="5.6" fill="#404040">2021</text><path d="M237.9 660.9h11.4" stroke="#ffc000" stroke-width="1" fill="none"/><text x="250.6" y="662.8" font-size="5.6" fill="#404040">2022</text><path d="M267.9 660.9h11.4" stroke="#a5a5a5" stroke-width="1" fill="none"/><text x="280.6" y="662.8" font-size="5.6" fill="#404040">2023</text><path d="M296.6 660.9h11.4" stroke="#ed7d31" stroke-width="1" fill="none"/><text x="309.3" y="662.8" font-size="5.6" fill="#404040">2024</text><path d="M326.7 660.9h11.4" stroke="#3f546f" stroke-width="1" fill="none"/><text x="339.4" y="662.8" font-size="5.6" fill="#404040">2025</text><path d="M356.3 660.9h11.4" stroke="#ff0000" stroke-width="1" fill="none"/><text x="369" y="662.8" font-size="5.6" fill="#404040">2026</text>
<text class="cj" x="531" y="656.2" font-size="8.2" text-anchor="middle" fill="#595959" letter-spacing="0.5">河北05合约基差(元/吨)</text>
<text x="433.9" y="662.5" font-size="5.6" text-anchor="end" fill="#595959">850</text><text x="433.9" y="669.33" font-size="5.6" text-anchor="end" fill="#595959">750</text><text x="433.9" y="676.16" font-size="5.6" text-anchor="end" fill="#595959">650</text><text x="433.9" y="682.99" font-size="5.6" text-anchor="end" fill="#595959">550</text><text x="433.9" y="689.82" font-size="5.6" text-anchor="end" fill="#595959">450</text><text x="433.9" y="696.65" font-size="5.6" text-anchor="end" fill="#595959">350</text><text x="433.9" y="703.48" font-size="5.6" text-anchor="end" fill="#595959">250</text><text x="433.9" y="710.31" font-size="5.6" text-anchor="end" fill="#595959">150</text><text x="433.9" y="717.14" font-size="5.6" text-anchor="end" fill="#595959">50</text><text x="433.9" y="723.97" font-size="5.6" text-anchor="end" fill="#595959">-50</text><text x="433.9" y="730.8" font-size="5.6" text-anchor="end" fill="#595959">-150</text>
<path d="M439.32 708.48L440.43 708.6L441.54 706.16L442.65 704.22L443.76 707.57L444.87 707.53L445.98 710.49L447.09 709.37L448.2 710.79L449.31 711.79L450.42 708.02L451.53 708.44L452.64 707.97L453.75 705.19L454.86 705.59L455.97 700.34L457.3 700.73L458.63 699.71L459.74 697.85L460.85 696.89L461.96 698.76L462.96 700.73L463.96 706.18L465.07 704.63L466.18 704.69L467.29 704.67L468.62 704.84L469.95 706.16L471.28 706.39L472.62 704.09L473.72 704.13L474.83 702.54L475.94 702.07L477.28 703.36L478.61 704.87L479.94 705.49L481.27 702.43L482.6 702.58L483.93 705.82L485.27 704.51L486.6 701.03L487.93 701.72L489.26 703.64L490.59 700.34L491.92 700.13L493.26 704.07L494.59 706.31L495.7 710.36L496.81 710.82L497.92 711.1L499.25 709.95L500.58 712.77L501.91 711.84L503.02 711.51L504.13 716.17L505.24 716.21L506.35 713.91L507.46 714.11L508.57 712.66L509.9 713.22L511.23 709.1L512.57 695.97L513.9 691.28L515.23 688.52L516.56 691.32L517.89 694.92L519.23 690.98L520.56 688.67L521.89 682.85L523.22 675.72L524.22 680.87L525.22 684.2L526.55 688.32L527.88 693.29L528.99 692.05L530.1 692.12L531.21 691.86L532.32 692.29L533.43 690.43L534.54 691.91L535.65 689.19L536.76 688.98L537.87 686.9L538.93 686.28L540 686.71L540.99 685.92L542.32 682.75L543.66 679.86L544.99 684.72L546.32 686.89L547.65 685.45L548.98 680.98L549.98 680.66L550.98 677.01L551.98 680.5L552.98 684.48L553.98 681.25L554.98 676.54L556.31 680.49L557.64 686.29L558.64 687.54L559.64 689.6L560.97 683.59L562.3 679.73L563.63 683.81L564.96 687.8L566.3 685.15L567.63 682.14L568.96 684.33L570.29 687.63L571.4 686.35L572.51 682.56L573.62 677.9L574.73 680.02L575.84 683.76L576.95 684.41L578.28 684.68L579.61 683.6L580.94 680.14L582.05 683.05L583.16 686.53L584.27 688.24L585.38 689.44L586.49 686.9L587.6 687.82L588.93 689.6L590.27 688.93L591.6 686.63L592.93 686.99L594.26 690.04L595.59 690.93L596.92 689.4L598.26 687.46L599.59 688.73L600.92 694.16L602.25 693.31L603.58 690.73L604.69 689.7L605.8 689.55L606.91 691.36L608.02 690.6L609.13 691.48L610.24 696.07L611.35 695.3L612.46 696.04L613.57 697.21L614.68 695.79L615.79 698.66L616.9 696.42L618.01 699.8L619.12 698.95L620.23 701.22L621.34 702.43L622.45 701.13L623.56 704.87L624.67 703.8L625.78 708.1L626.89 707.86L628 708.03L629.11 707.57L630.22 704.58L631.33 704.34L632.44 706.75L633.55 706.94" fill="none" stroke="#a5a5a5" stroke-width="1.1" stroke-linejoin="round"/>
<path d="M439.32 718L440.32 720.13L441.32 720.82L442.65 723.54L443.98 722.44L445.31 723.34L446.65 725.56L447.76 722.74L448.87 723.69L449.98 720.13L451.31 719.05L452.64 717.51L453.75 717.78L454.86 713.28L455.97 712.14L457.08 711.67L458.19 709.46L459.3 709.6L460.41 708.71L461.52 709.45L462.63 709.77L463.96 708.62L465.29 709.14L466.4 709.24L467.51 705.99L468.62 706.27L469.73 704.14L470.84 706.18L471.95 702.91L473.28 707.1L474.61 708.88L475.94 711.15L477.28 710.83L478.61 711.79L479.94 708.66L481.27 710.95L482.38 712.27L483.49 711.85L484.6 712.98L485.71 711.01L486.82 711.36L487.93 707.93L489.26 707.84L490.59 710.07L491.7 713.8L492.81 715.03L493.92 714.59L495.03 716.05L496.14 717.05L497.25 715.15L498.36 714.17L499.47 716.74L500.58 713.88L501.69 717.16L502.8 715.45L503.91 718.95L505.02 716.31L506.13 718.31L507.24 719.41L508.57 716.72L509.9 718.51L511.23 714.78L512.57 708.01L513.9 703.43L515.23 696.26L516.34 696.36L517.45 698.1L518.56 697.66L519.89 694.94L521.22 697.06L522.33 695.23L523.44 691.2L524.55 689.54L525.55 682.61L526.55 678.1L527.55 676.22L528.55 671.73L529.55 672.73L530.54 676.34L531.54 677.36L532.54 681.71L533.74 676.2L534.94 670.04L536.07 673.26L537.2 676.87L538.6 675.75L540 679.11L540.33 681.95L541.44 679.28L542.55 678.53L543.66 680.38L544.99 682.97L546.32 685.84L547.65 689.06L548.98 689.6L550.09 689.85L551.2 685.95L552.31 686.01L553.42 688.81L554.53 688.97L555.64 689.38L556.75 690.07L557.86 690.95L558.97 694.69L560.3 687.63L561.41 692.18L562.52 693.48L563.63 694.92L564.96 691.34L566.3 693.07L567.63 698.56L568.96 701.99L570.07 705.28L571.18 705.21L572.29 706.59L573.29 707.68L574.29 714.92L575.28 709.24L576.28 707.05L577.28 710.1L578.28 714.36L579.61 712.89L580.94 715.41L581.94 711.43L582.94 704.52L584.05 704.41L585.16 706.32L586.27 705.93L587.38 703.41L588.49 703.17L589.6 700.86L590.6 708.17L591.6 713.13L592.93 693.99L593.93 693.13L594.93 690.48L595.93 680.44L596.92 675.28L598.66 679.08L599.99 670.23L601.32 662.48L602.65 672.5L603.58 695.67L604.92 690.97L606.25 690.69L607.58 693.11L608.91 692.36L610.02 697.16L611.13 696.49L612.24 700.98L613.24 703.42L614.24 705.19L615.57 713.6L616.9 704.01L618.23 702.24L619.56 701.12L620.9 702.9L622.23 701.02L623.56 704.68L624.89 709.56L626.22 712.02L627.55 714.13L628.89 709.5L630.22 709.8L631.55 710.62L632.88 713.59L634.21 713.14L635.54 714.93" fill="none" stroke="#5b9bd5" stroke-width="1.1" stroke-linejoin="round"/>
<path d="M439.32 717.61L440.32 713.53L441.32 711.83L442.32 716.88L443.32 719.5L444.65 714.21L445.98 713.4L447.09 714.89L448.2 712.56L449.31 716.02L450.64 713.75L451.97 711.69L453.08 712.61L454.19 714.43L455.3 713.11L456.41 714.62L457.52 717.27L458.63 716.81L459.63 721.16L460.63 721.8L461.63 716.81L462.63 709.57L463.96 706.79L465.29 706.6L466.4 702.02L467.51 700.6L468.62 698.78L469.62 701.99L470.62 705.44L471.62 707.93L472.62 712.49L473.72 710.76L474.83 711.95L475.94 709.01L477.28 708.88L478.61 710.93L479.94 718.24L481.27 721.62L482.27 714.4L483.27 707.6L484.6 704.75L485.93 702.11L487.04 699.45L488.15 701.25L489.26 699.6L490.37 699.37L491.48 700.56L492.59 696.84L493.92 700.44L495.25 703.1L496.59 705.23L497.92 710.01L499.03 707.41L500.14 711.73L501.25 709.84L502.58 711.71L503.91 712.24L505.02 711.29L506.13 712.54L507.24 713.37L508.24 709.56L509.24 704.82L510.57 707.92L511.9 708.18L513.63 678.18L515.1 679.5L516.56 681.97L517.56 681.23L518.56 677.11L519.89 681.2L521.22 684.46L522.55 684.14L523.89 686.58L525.22 682.96L526.55 678.7L527.88 679.09L529.21 678.3L530.32 677.19L531.43 675.58L532.54 675.39L533.87 677.99L535.21 675.56L536.54 681.07L537.87 684.29L538.93 681.98L540 679.55L540.33 680.96L541.33 687.71L542.32 691.05L543.66 689.71L544.99 688.92L546.32 685.96L547.65 679.54L548.65 685.06L549.65 690.21L550.65 696.54L551.65 700.87L552.65 696.79L553.64 696.63L554.98 701.67L556.31 705.34L557.64 709.29L558.97 715.99L559.97 710.87L560.97 707.54L561.97 706.64L562.97 701.93L564.3 708.3L565.63 714.07L566.96 708.37L568.29 703.96L569.62 706.47L570.96 708.42L572.07 709.69L573.18 709.79L574.29 709.64L575.4 706.17L576.51 704.99L577.62 700.95L578.95 705.89L580.28 709.95L581.28 705.39L582.28 702.73L583.27 704.85L584.27 708.6L585.38 710.31L586.49 710.62L587.6 711.45L588.71 712.46L589.82 711.24L590.93 713.81L591.93 710.38L592.93 703.79L594.26 699.76L595.59 696.76L596.92 697.6L598.26 702.63L599.59 701.95L600.92 699.56L602.03 702.23L603.14 703.43L604.25 705.54L605.36 705.12L606.47 702.73L607.58 702.5L608.69 702.64L609.8 699.45L610.91 698.18L612.24 701.51L613.57 700.84L614.9 692.94L615.9 696.73L616.9 698.88L617.9 699.76L618.9 695.36L620.23 697.68L621.56 700.66L622.89 703.68L624.23 703.72L625.22 705.03L626.22 706.15L627.55 704.59L628.89 700.37L630.22 699.01L631.55 698.37L632.88 705.64L634.21 707.6" fill="none" stroke="#ffc000" stroke-width="1.1" stroke-linejoin="round"/>
<path d="M439.32 706.64L440.43 704.77L441.54 701.87L442.65 700.39L443.76 703.93L444.87 701.59L445.98 705.79L447.31 706.11L448.64 704.22L449.75 706.31L450.86 711.17L451.97 714.77L453.08 711.71L454.19 711.45L455.3 709.91L456.41 712.77L457.52 713.09L458.63 713.89L459.96 713.77L461.3 711.56L462.63 709.52L463.96 710.12L465.29 707.49L466.62 707.36L467.73 706.72L468.84 706.31L469.95 702.53L471.06 706.97L472.17 709.33L473.28 708.35L474.61 707.76L475.94 708.39L477.28 707.4L478.61 708.36L479.94 704L481.27 703.52L482.38 707.98L483.49 708.87L484.6 709.54L485.93 708.52L487.26 709.31L488.6 710.11L489.71 710.61L490.82 710.2L491.92 709.88L493.03 711.14L494.14 712.56L495.25 714.29L496.36 714.77L497.47 713.69L498.58 713.06L499.92 714.22L501.25 713.39L502.58 712.63L503.91 715.83L505.24 714.41L506.57 716.03L507.68 712.97L508.79 710.34L509.9 707.61L511.23 707.41L512.57 710.4L513.57 703.34L514.56 700.51L515.9 699.12L517.23 699.32L518.56 701.41L519.67 700.98L520.78 697.64L521.89 694.72L523.22 691.76L524.55 691.17L525.66 693.44L526.77 695.61L527.88 698.21L528.99 696.15L530.1 699.32L531.21 697.3L532.32 697.01L533.43 693.91L534.54 695.27L535.65 697.61L536.76 696.37L537.87 697.01L538.93 698.06L540 698.41L541.66 694.99L542.99 694.61L544.32 694.12L545.65 695.75L546.99 697.32L548.32 697.35L549.32 702.6L550.31 704.34L551.42 706.32L552.53 705.44L553.64 703.94L554.98 707.09L556.31 705.11L557.64 708.65L558.97 706.11L560.3 702.49L561.63 701.68L562.97 702.32L564.3 703.2L565.63 703.51L566.74 703.62L567.85 705.6L568.96 708.61L570.29 707.74L571.62 707.36L572.95 707.36L574.29 710.72L575.62 707.14L576.95 708.47L578.28 707.97L579.61 711.27L580.94 709.83L582.28 712.78L583.61 719.53L584.94 718.04L586.27 720.63L587.38 718.72L588.49 720.57L589.6 718.03L590.6 715.61L591.6 714.22L592.93 716.75L594.26 721.32L595.59 720.91L596.92 722.9L598.26 722.82L599.37 723.2L600.48 723.64L601.59 723.79L602.7 723.89L603.81 723.2L604.92 724.3L606.03 725.38L607.13 721.79L608.24 721.36L609.41 722.68L610.58 722.75L611.74 719.95L612.91 722.21L614.24 722.57L615.57 725.19L616.9 722.83L618.01 722.33L619.12 724.32L620.23 722.69L621.56 721.86L622.89 717.74L624.23 719.81L625.56 716.97L626.89 718.04L628 716.09L629.11 719.3L630.22 719.87L631.33 720.07L632.44 721.53L633.55 719.59" fill="none" stroke="#ed7d31" stroke-width="1.1" stroke-linejoin="round"/>
<path d="M439.32 719.57L440.65 720.96L441.99 722.38L443.1 721.96L444.21 721.18L445.31 720.77L446.42 722.18L447.53 723.25L448.64 724.3L449.75 723.21L450.86 721.61L451.97 720.17L453.31 719.71L454.64 719.09L455.97 719.05L457.08 720.2L458.19 721.59L459.3 722.77L460.41 723.84L461.52 724.2L462.63 724.73L463.63 721.06L464.62 717.03L465.96 716.68L467.29 717.03L468.62 716.78L469.73 716.31L470.84 716.29L471.95 715.78L473.28 714L474.61 712.69L475.94 711.56L477.05 712.07L478.16 713.07L479.27 713.43L480.38 714.56L481.49 715.92L482.6 716.9L483.71 716.35L484.82 715.46L485.93 715.09L487.26 715.28L488.6 715.34L489.93 715.66L491.26 714.99L492.59 714.25L493.92 713.8L495.03 713.33L496.14 712.82L497.25 712.43L498.36 712.9L499.47 713.88L500.58 714.22L501.69 715.83L502.8 717.46L503.91 718.9L505.24 719.24L506.57 719.83L507.91 720.08L509.02 718.05L510.13 716.01L511.23 713.6L512.57 712.69L513.9 712.06L515.23 711.12L516.56 710.46L517.89 710.25L519.23 709.48L520.33 709.02L521.44 708.99L522.55 708.33L523.66 709.31L524.77 710.29L525.88 711.78L526.99 712.08L528.1 712.63L529.21 712.87L530.32 712.62L531.43 712.15L532.54 711.47L533.65 711.81L534.76 711.8L535.87 711.41L537.25 712.3L538.62 713.22L540 714.32L541.66 714.14L542.99 714.79L544.32 715.84L545.65 716.17L546.76 717.35L547.87 719.03L548.98 720.36L550.09 720.3L551.2 720.53L552.31 720.92L553.42 721.09L554.53 721.85L555.64 722.37L556.97 721.91L558.31 721.8L559.64 721.48L560.97 722.62L562.3 724.32L563.63 722.8L564.96 721.48L566.3 721.75L567.63 722.75L568.96 723.05L570.12 722.49L571.29 721.99L572.45 721.58L573.62 721.05L574.95 721.6L576.28 722.29L577.62 723.03L578.95 723.13L580.28 723.48L581.61 723.39L582.78 723.47L583.94 724.09L585.11 723.94L586.27 724.44L587.6 723.87L588.93 723.35L590.27 722.88L591.6 724.01L592.93 725.67L594.04 725.09L595.15 724.95L596.26 724.2L597.37 724.54L598.48 724.96L599.59 725.67L600.7 725.63L601.81 726.01L602.92 726.09L604.25 727.4L605.58 728.42L606.69 727.24L607.8 726.56L608.91 725.57L610.24 726.53L611.57 727.09L612.68 725.79L613.79 725.17L614.9 724.25L616.01 723.82L617.12 723.41L618.23 722.81L619.34 721.85L620.45 721.19L621.56 720.29L622.89 719.09L624.23 717.84L625.56 716.94L626.89 716.86L628.22 716.45L629.55 716.19L630.88 716.91L632.22 718.24L633.55 718.83L634.55 719.19L635.54 718.92" fill="none" stroke="#3f546f" stroke-width="1.1" stroke-linejoin="round"/>
<path d="M440.39 720.92L441.45 718.92" fill="none" stroke="#ff0000" stroke-width="1.1" stroke-linejoin="round"/>
<path d="M439.1 660.2V729.3M439.1 660.6h1.6M439.1 667.43h1.6M439.1 674.26h1.6M439.1 681.09h1.6M439.1 687.92h1.6M439.1 694.75h1.6M439.1 701.58h1.6M439.1 708.41h1.6M439.1 715.24h1.6M439.1 722.07h1.6M439.1 728.9h1.6" fill="none" stroke="#3b3838" stroke-width="1.1"/>
<path d="M438.6 718.6H635.5M439.1 718.6v-1.8M455.47 718.6v-1.8M471.83 718.6v-1.8M488.2 718.6v-1.8M504.57 718.6v-1.8M520.93 718.6v-1.8M537.3 718.6v-1.8M553.67 718.6v-1.8M570.03 718.6v-1.8M586.4 718.6v-1.8M602.77 718.6v-1.8M619.13 718.6v-1.8M635.5 718.6v-1.8" fill="none" stroke="#000" stroke-width="1.1"/>
<text class="cj" transform="translate(440.3,737.5) rotate(-45)" font-size="5.8" text-anchor="end" fill="#595959">1月1日</text><text class="cj" transform="translate(456.67,737.5) rotate(-45)" font-size="5.8" text-anchor="end" fill="#595959">2月1日</text><text class="cj" transform="translate(473.03,737.5) rotate(-45)" font-size="5.8" text-anchor="end" fill="#595959">3月1日</text><text class="cj" transform="translate(489.4,737.5) rotate(-45)" font-size="5.8" text-anchor="end" fill="#595959">4月1日</text><text class="cj" transform="translate(505.77,737.5) rotate(-45)" font-size="5.8" text-anchor="end" fill="#595959">5月1日</text><text class="cj" transform="translate(522.13,737.5) rotate(-45)" font-size="5.8" text-anchor="end" fill="#595959">6月1日</text><text class="cj" transform="translate(538.5,737.5) rotate(-45)" font-size="5.8" text-anchor="end" fill="#595959">7月1日</text><text class="cj" transform="translate(554.87,737.5) rotate(-45)" font-size="5.8" text-anchor="end" fill="#595959">8月1日</text><text class="cj" transform="translate(571.23,737.5) rotate(-45)" font-size="5.8" text-anchor="end" fill="#595959">9月1日</text><text class="cj" transform="translate(587.6,737.5) rotate(-45)" font-size="5.8" text-anchor="end" fill="#595959">10月1日</text><text class="cj" transform="translate(603.97,737.5) rotate(-45)" font-size="5.8" text-anchor="end" fill="#595959">11月1日</text><text class="cj" transform="translate(620.33,737.5) rotate(-45)" font-size="5.8" text-anchor="end" fill="#595959">12月1日</text>
<path d="M445.3 659.9h11.4" stroke="#5b9bd5" stroke-width="1" fill="none"/><text x="458" y="661.8" font-size="5.6" fill="#404040">2021</text><path d="M476.3 659.9h11.4" stroke="#ffc000" stroke-width="1" fill="none"/><text x="489" y="661.8" font-size="5.6" fill="#404040">2022</text><path d="M507.2 659.9h11.4" stroke="#a5a5a5" stroke-width="1" fill="none"/><text x="519.9" y="661.8" font-size="5.6" fill="#404040">2023</text><path d="M537.7 659.9h11.4" stroke="#ed7d31" stroke-width="1" fill="none"/><text x="550.4" y="661.8" font-size="5.6" fill="#404040">2024</text><path d="M568.3 659.9h11.4" stroke="#3f546f" stroke-width="1" fill="none"/><text x="581" y="661.8" font-size="5.6" fill="#404040">2025</text><path d="M599.2 659.9h11.4" stroke="#ff0000" stroke-width="1" fill="none"/><text x="611.9" y="661.8" font-size="5.6" fill="#404040">2026</text>
<text class="cj" x="291" y="781.8" font-size="8.2" text-anchor="middle" fill="#595959" letter-spacing="0.9">1-5价差(元/吨)</text>
<text x="190.4" y="788.2" font-size="5.6" text-anchor="end" fill="#595959">500</text><text x="190.4" y="794.41" font-size="5.6" text-anchor="end" fill="#595959">400</text><text x="190.4" y="800.62" font-size="5.6" text-anchor="end" fill="#595959">300</text><text x="190.4" y="806.83" font-size="5.6" text-anchor="end" fill="#595959">200</text><text x="190.4" y="813.04" font-size="5.6" text-anchor="end" fill="#595959">100</text><text x="190.4" y="819.25" font-size="5.6" text-anchor="end" fill="#595959">0</text><text x="190.4" y="825.45" font-size="5.6" text-anchor="end" fill="#595959">-100</text><text x="190.4" y="831.66" font-size="5.6" text-anchor="end" fill="#595959">-200</text><text x="190.4" y="837.87" font-size="5.6" text-anchor="end" fill="#595959">-300</text><text x="190.4" y="844.08" font-size="5.6" text-anchor="end" fill="#595959">-400</text><text x="190.4" y="850.29" font-size="5.6" text-anchor="end" fill="#595959">-500</text><text x="190.4" y="856.5" font-size="5.6" text-anchor="end" fill="#595959">-600</text>
<path d="M195.99 824.26L197.1 824.46L198.21 825.22L199.32 826.26L200.43 825.93L201.54 824.95L202.65 824.57L203.98 818.91L204.65 803.44L205.98 803.58L207.31 803.26L208.64 804.15L209.98 803.87L211.31 803.37L212.64 803.07L213.97 802.59L215.3 802.52L216.63 802.39L217.97 802.75L219.3 803.28L220.63 803.53L221.96 802.49L223.29 802.86L224.62 801.93L225.96 801.5L227.29 800.68L228.62 800.2L229.95 800.11L231.28 800.79L232.62 800.77L233.72 800.38L234.83 799.35L235.94 798.75L237.05 798.51L238.16 798.28L239.27 798.26L240.61 799.55L241.94 799.93L243.27 801.05L244.38 800.23L245.49 798.19L246.6 796.84L247.71 798.07L248.82 799.85L249.93 801.58L251.04 798.38L252.15 796.14L253.26 794.07L254.37 794.91L255.48 796.11L256.59 796.68L257.7 795.55L258.81 794.71L259.92 794.15L261.25 792.77L262.58 792.32L263.91 791.28L265.02 790.22L266.13 789.96L267.24 788.79L268.57 791.57L269.9 793.65L271.5 804.02L272.83 817.98L274.08 817.41L275.32 817.57L276.56 817.1L277.89 817.02L279.23 816.2L280.56 815.63L281.89 816.03L283.22 815.66L284.55 815.31L285.88 815.94L287.22 816.07L288.55 815.69L289.88 815.65L291.21 816.22L292.54 816.18L293.87 816.3L295.1 816.29L296.32 815.99L297.55 816.71L298.77 816.43L300 816.34L300.33 817.63L301.66 818.49L302.99 818.62L304.32 819.19L305.65 819.42L306.99 819.61L308.32 821.08L309.65 821.36L310.98 822.83L312.31 824.48L313.64 823.11L314.98 821.15L316.31 820.94L317.64 820.91L318.97 820.59L320.3 820.84L321.63 821.93L322.97 822.63L324.3 823.55L325.63 824.28L326.96 825.49L328.07 825.18L329.18 825.99L330.29 825.95L331.62 825.55L332.95 823.76L334.29 823.5L335.4 823.71L336.51 823.45L337.62 823.91L338.95 825.01L340.28 825.5L341.61 825.9L342.78 826L343.94 826.12L345.11 826.16L346.27 825.96L347.44 826.22L348.6 826.38L349.77 826.17L350.93 825.77L352.04 826.17L353.15 825.21L354.26 825.21L355.59 826.13L356.92 828.18L358.26 829.7L359.59 831.28L360.92 830.71L362.25 829.57L363.58 829.88L364.92 830.93L366.25 830.62L367.58 831.53L368.91 831.78L370.24 830.46L371.57 829.12L372.68 828.8L373.79 827.02L374.9 826.5L376.01 827.24L377.12 827.31L378.23 826.93L379.34 826.54L380.45 826.06L381.56 825.6L382.89 825.89L384.23 826.5L385.56 826.83L386.89 825.82L388.22 824.38L389.55 824.26L390.88 823.99L392.22 823.01L393.55 824.26L394.88 824.15L396.21 825.11L397.32 825.44L398.43 826.03L399.54 825.94" fill="none" stroke="#a5a5a5" stroke-width="1.1" stroke-linejoin="round"/>
<path d="M195.99 811.08L197.32 811.7L198.66 812.13L199.77 810.9L200.88 810.86L201.99 809.96L202.98 811.33L203.98 812.19L204.98 810.82L205.98 810.08L207.09 808.95L208.2 807.77L209.31 806.75L210.42 806.16L211.53 805.04L212.64 804.51L213.75 805.8L214.86 806.75L215.97 808.11L217.3 807.02L218.63 806.37L219.96 805.93L221.3 805.74L222.63 806.64L223.96 806.46L225.29 806.8L226.62 808.14L227.95 808.56L229.06 810.19L230.17 811.43L231.28 813.37L232.39 812.62L233.5 811.53L234.61 811.43L235.72 810.45L236.83 810.56L237.94 810.04L239.05 810.14L240.16 810.12L241.27 810.92L242.38 810.24L243.49 809.01L244.6 808.17L245.93 807.35L247.26 807.51L248.6 806.59L249.93 805.76L251.26 804.53L252.59 805.27L253.92 805.3L255.25 806.28L256.59 806.63L257.92 806.11L259.25 806.49L260.36 806.02L261.47 804.91L262.58 804.2L263.69 805.38L264.8 806.22L265.91 807.05L267.02 809.05L268.13 811.13L269.24 813.29L270.57 814.24L271.9 815.29L273.01 815.68L274.12 817.14L275.23 817.77L276.56 818.11L277.89 818.87L279.23 819.28L280.56 820.21L281.89 820.81L283.22 821.61L284.55 821.04L285.88 820.42L287.22 820.52L288.55 819.74L289.88 819.66L291.21 819.82L292.54 819.98L293.87 820.21L295.1 820.07L296.32 819.8L297.55 819.2L298.77 819.54L300 819.31L300.33 819.77L301.44 819.49L302.55 820.13L303.66 820.34L304.77 820.2L305.88 819.82L306.99 819.74L308.32 819.65L309.65 820.57L310.98 820.79L312.31 820.52L313.64 820.84L314.98 820.78L316.31 821.11L317.64 820.63L318.97 821.29L320.3 821.88L321.63 822.23L322.97 821.43L324.3 821.66L325.63 821.52L326.96 822.2L328.29 822.93L329.62 823.76L330.96 824.27L332.29 824.78L333.62 825.08L334.95 824.98L336.28 823.48L337.62 823.34L338.95 823.5L340.28 824.28L341.61 824.37L342.94 825.88L344.27 826.1L345.61 827.48L346.94 831.14L348.27 833.13L349.6 834.54L350.71 835.55L351.82 836.37L352.93 836.43L354.26 830.44L355.26 833.38L356.26 834.98L357.59 836.5L358.59 834.3L359.59 831.47L360.92 830.42L362.25 829.38L363.25 829.68L364.25 830.89L365.58 827.91L366.91 825.8L368.24 824.29L369.58 822.45L370.91 822.01L372.24 821.88L373.57 820.69L374.9 819.95L376.23 819.12L377.57 819.16L378.9 821.35L380.23 822.55L381.34 823.77L382.45 824.56L383.56 825.39L384.67 826.18L385.78 827.07L386.89 827.85L388.22 826.8L389.55 825.32L390.66 823.16L391.77 821.89L392.88 819.91L394.21 818.9L395.54 818.05L396.88 817.9L398.21 817.09L399.54 817.29" fill="none" stroke="#5b9bd5" stroke-width="1.1" stroke-linejoin="round"/>
<path d="M195.99 822.55L197.32 821.78L198.66 821.45L199.99 820.25L201.32 819.36L202.65 824.53L203.98 811.5L205.31 804L206.65 804.67L207.98 804.27L209.31 804.6L210.42 804.35L211.53 804.43L212.64 803.84L213.97 803.04L215.3 802.28L216.63 801.72L217.74 803.09L218.85 804.83L219.96 806.4L221.3 807.28L222.63 807.11L223.96 808.15L225.07 806.28L226.18 805.16L227.29 803.69L228.62 803.01L229.95 800.98L231.28 801.29L232.62 801.01L233.95 800.34L235.06 799.44L236.17 799.33L237.28 798.09L238.61 798.82L239.94 800.16L240.94 803.41L241.94 805.92L243.05 806.23L244.16 807.53L245.27 808.23L246.38 808.53L247.49 807.92L248.6 808.6L249.71 807.88L250.82 807.05L251.92 805.73L253.26 806.65L254.59 806.85L255.92 807.61L257.03 806.44L258.14 804.91L259.25 803.92L260.36 805.52L261.47 806.32L262.58 807.4L263.91 806.53L265.24 805.26L266.57 803.86L267.57 801.48L268.57 799.8L269.57 797.61L270.57 794.66L272.17 797.55L273.23 820.05L274.34 820.16L275.45 820.51L276.56 820.53L277.67 821.17L278.78 822.3L279.89 822.58L281 823.23L282.11 823.24L283.22 824.03L284.55 822.78L285.88 822.51L287.22 821.58L288.55 821.32L289.88 820.52L291.21 820.64L292.54 820.71L293.79 820.78L295.03 820.49L296.27 819.8L297.51 819.78L298.76 820.38L300 819.7L301.66 820.1L302.77 820.04L303.88 819.58L304.99 819.61L306.1 820.01L307.21 819.81L308.32 819.63L309.43 820.12L310.54 820.38L311.65 819.98L312.76 819.5L313.87 820.42L314.98 819.92L316.09 820.5L317.2 820.41L318.31 820.03L319.41 820.8L320.52 820.21L321.63 820.32L322.74 820.24L323.85 820.99L324.96 821.07L326.07 820.55L327.18 820.72L328.29 820.8L329.4 820.94L330.51 821.02L331.62 820.85L332.73 821.09L333.84 820.78L334.95 820.7L336.06 821.31L337.17 821.21L338.28 821.53L339.39 820.98L340.5 821.55L341.61 821.62L342.72 821.04L343.83 820.9L344.94 820.87L346.05 820.36L347.16 821.16L348.27 820.3L349.38 820.11L350.49 820.44L351.6 820.43L352.71 820.48L353.82 820.04L354.93 820.14L356.04 819.43L357.15 820.18L358.26 819.63L359.37 820.11L360.48 820.08L361.59 819.48L362.92 820.07L364.25 819.86L365.58 820.17L366.91 819.86L368.24 820.22L369.58 820.53L370.91 820.5L372.24 822.08L373.57 824.03L374.9 823.15L376.23 823.54L377.57 824.7L378.9 826.23L380.23 824.37L381.56 822.75L382.89 823.54L384.23 824.43L385.56 823.86L386.89 823.15L388.22 822.47L389.55 821.92L390.88 821.16L391.99 822.61L393.1 823.48L394.21 824.64L395.32 824.53L396.43 823.73L397.54 824.18L399.27 826.61" fill="none" stroke="#ffc000" stroke-width="1.1" stroke-linejoin="round"/>
<path d="M195.99 825.21L197.32 826.3L198.66 827.26L199.99 826.63L201.32 825.95L202.32 824.14L203.32 822.53L204.65 804.54L205.76 804.47L206.87 804.18L207.98 804.05L209.31 803.94L210.64 804.04L211.97 804.06L213.14 803.4L214.3 803.07L215.47 802.47L216.63 802.01L217.8 802.43L218.96 802.49L220.13 802.84L221.3 803.39L222.63 802.99L223.96 803L225.29 802.69L226.4 802.8L227.51 803.23L228.62 803.41L229.95 802.82L231.28 802.7L232.39 803.81L233.5 804.78L234.61 805.96L235.94 807.44L237.28 809.17L238.61 810.57L239.94 809.9L241.27 809.24L242.6 808.62L243.71 808.05L244.82 807.89L245.93 807.27L247.26 806.91L248.6 806.55L249.93 805.96L251.26 806.29L252.59 806.74L253.92 807.32L255.25 807.55L256.59 807.87L257.92 807.99L259.25 807.82L260.58 807.44L261.91 807.28L263.24 807.03L264.58 806.95L265.91 806.73L267.24 806.33L268.57 805.8L269.9 805.31L271.5 808.54L273.23 819.88L274.56 820.07L275.9 819.92L277.23 819.89L278.43 819.73L279.62 819.7L280.82 819.62L282.02 819.53L283.22 819.27L284.33 819.37L285.44 819.56L286.55 819.57L287.66 819.87L288.77 819.96L289.88 819.86L291.14 820.02L292.41 820.02L293.67 819.87L294.94 820L296.2 819.82L297.47 819.9L298.73 820.05L300 820.03L301.66 819.27L302.77 819.3L303.88 818.92L304.99 818.92L306.1 818.75L307.21 818.83L308.32 818.69L309.43 818.67L310.54 818.52L311.65 818.74L312.76 818.65L313.87 818.71L314.98 818.55L316.09 818.73L317.2 818.75L318.31 819.1L319.41 819.2L320.52 819.3L321.63 819.22L322.74 819.17L323.85 819.36L324.96 819.25L326.07 819.18L327.18 819.36L328.29 819.32L329.4 819.05L330.51 818.99L331.62 818.87L332.73 818.78L333.84 818.7L334.95 818.54L336.06 818.65L337.17 818.56L338.28 818.59L339.39 818.6L340.5 818.49L341.61 818.65L342.94 818.3L344.27 817.67L345.61 817.34L346.94 816.7L348.27 815.97L349.6 815.28L350.93 815.02L352.26 815.1L353.6 814.8L354.93 814.61L356.04 814.42L357.15 814.34L358.26 814.39L359.37 814.2L360.48 814.06L361.59 814.02L362.7 813.74L363.81 813.59L364.92 813.38L366.03 813.12L367.13 812.71L368.24 812.72L369.35 812.5L370.46 812.57L371.57 812.36L372.68 812.22L373.79 812.31L374.9 812.25L376.23 812.34L377.57 812.35L378.9 812.59L380.23 812.72L381.56 812.52L382.89 812.07L384.23 811.94L385.56 812.33L386.89 812.35L388.22 812.56L389.55 813.75L390.88 814.71L391.99 814.71L393.1 814.89L394.21 814.85L395.32 814.72L396.43 814.51L397.54 814.32L398.54 814.01L399.54 813.96" fill="none" stroke="#ed7d31" stroke-width="1.1" stroke-linejoin="round"/>
<path d="M195.99 811.87L196.99 813.55L197.99 814.95L198.99 814.05L199.99 813.33L201.32 812.65L202.65 812.01L203.98 821.64L205.15 821.35L206.31 821.29L207.48 821.06L208.64 820.94L209.98 821.29L211.31 821.76L212.64 821.91L213.97 822.23L215.3 822.76L216.63 823.04L217.97 823.26L219.3 822.25L220.63 821.5L221.96 820.56L223.13 820.84L224.29 821.05L225.46 821.1L226.62 821.28L227.73 820.7L228.84 820.26L229.95 819.92L231.28 820.07L232.62 819.85L233.95 819.81L235.28 819.93L236.44 819.7L237.61 819.61L238.77 819.54L239.94 819.33L241.05 818.14L242.16 816.97L243.27 815.89L244.6 814.43L245.93 812.6L247.26 813.42L248.6 813.94L249.93 812.98L251.26 811.95L252.59 812.8L253.92 813.57L255.25 814.33L256.59 814.46L257.92 814.82L259.25 814.99L260.36 813.63L261.47 812.5L262.58 811.2L263.69 810.71L264.8 810.06L265.91 809.38L267.24 808.63L268.57 807.92L269.57 809.83L270.57 811.94L271.57 813.87L272.57 815.93L273.68 816.25L274.79 816.33L275.9 816.57L277.06 816.35L278.23 816.27L279.39 815.85L280.56 815.61L281.89 815.34L283.22 815.06L284.55 814.95L285.88 815.23L287.22 815.54L288.55 815.97L289.88 816L291.21 815.97L292.54 816.3L293.87 816.26L295.1 816.37L296.32 816.63L297.55 816.94L298.77 817L300 817.28L301.5 817.17L302.99 817.27L304.32 817.06L305.65 816.67L306.99 816.49L308.32 816.19L309.65 815.79L310.98 815.44L312.31 815.13L313.64 814.79L314.98 814.99L316.31 815.36L317.64 815.45L318.97 815.61L320.3 815.43L321.63 815.03L322.97 814.75L324.3 814.63L325.63 814.64L326.96 814.62L328.29 814.81L329.62 814.82L330.96 814.76L332.29 814.64L333.62 814.53L334.95 814.29L336.28 814.05L337.62 813.96L338.95 813.88L340.28 813.53L341.61 813.6L342.94 813.74L344.27 813.74L345.61 813.9L346.94 813.81L348.27 813.39L349.6 813.38L350.93 813.01L352.26 812.97L353.6 812.57L354.93 812.67L356.26 812.38L357.59 812.41L358.92 812.6L360.25 812.49L361.59 812.65L362.92 812.53L364.25 812.21L365.58 811.89L366.91 811.69L368.24 811.74L369.58 811.92L370.91 812.05L372.24 812.29L373.57 812.27L374.9 812.2L376.23 812.05L377.57 811.94L378.9 812L380.23 812.19L381.56 812.32L382.89 812.66L384.23 812.63L385.56 812.97L386.89 812.86L388.22 812.94L389.55 814.22L390.88 815.21L391.99 814.99L393.1 814.36L394.21 813.99L395.32 813.46L396.43 812.98L397.54 812.69L398.74 812.34L399.94 811.96" fill="none" stroke="#3f546f" stroke-width="1.1" stroke-linejoin="round"/>
<path d="M197.32 811.96L198.26 815.96" fill="none" stroke="#ff0000" stroke-width="1.1" stroke-linejoin="round"/>
<path d="M195.6 785.9V855M195.6 786.3h1.6M195.6 792.51h1.6M195.6 798.72h1.6M195.6 804.93h1.6M195.6 811.14h1.6M195.6 817.35h1.6M195.6 823.55h1.6M195.6 829.76h1.6M195.6 835.97h1.6M195.6 842.18h1.6M195.6 848.39h1.6M195.6 854.6h1.6" fill="none" stroke="#3b3838" stroke-width="1.1"/>
<path d="M195.1 817.3H400.3M195.6 817.3v-1.8M212.66 817.3v-1.8M229.72 817.3v-1.8M246.78 817.3v-1.8M263.83 817.3v-1.8M280.89 817.3v-1.8M297.95 817.3v-1.8M315.01 817.3v-1.8M332.07 817.3v-1.8M349.12 817.3v-1.8M366.18 817.3v-1.8M383.24 817.3v-1.8M400.3 817.3v-1.8" fill="none" stroke="#000" stroke-width="1.1"/>
<text class="cj" transform="translate(196.8,863.2) rotate(-45)" font-size="5.8" text-anchor="end" fill="#595959">1月1日</text><text class="cj" transform="translate(213.86,863.2) rotate(-45)" font-size="5.8" text-anchor="end" fill="#595959">2月1日</text><text class="cj" transform="translate(230.92,863.2) rotate(-45)" font-size="5.8" text-anchor="end" fill="#595959">3月1日</text><text class="cj" transform="translate(247.97,863.2) rotate(-45)" font-size="5.8" text-anchor="end" fill="#595959">4月1日</text><text class="cj" transform="translate(265.03,863.2) rotate(-45)" font-size="5.8" text-anchor="end" fill="#595959">5月1日</text><text class="cj" transform="translate(282.09,863.2) rotate(-45)" font-size="5.8" text-anchor="end" fill="#595959">6月1日</text><text class="cj" transform="translate(299.15,863.2) rotate(-45)" font-size="5.8" text-anchor="end" fill="#595959">7月1日</text><text class="cj" transform="translate(316.21,863.2) rotate(-45)" font-size="5.8" text-anchor="end" fill="#595959">8月1日</text><text class="cj" transform="translate(333.27,863.2) rotate(-45)" font-size="5.8" text-anchor="end" fill="#595959">9月1日</text><text class="cj" transform="translate(350.32,863.2) rotate(-45)" font-size="5.8" text-anchor="end" fill="#595959">10月1日</text><text class="cj" transform="translate(367.38,863.2) rotate(-45)" font-size="5.8" text-anchor="end" fill="#595959">11月1日</text><text class="cj" transform="translate(384.44,863.2) rotate(-45)" font-size="5.8" text-anchor="end" fill="#595959">12月1日</text>
<path d="M203.3 786h11.4" stroke="#5b9bd5" stroke-width="1" fill="none"/><text x="216" y="787.9" font-size="5.6" fill="#404040">2021</text><path d="M235 786h11.4" stroke="#ffc000" stroke-width="1" fill="none"/><text x="247.7" y="787.9" font-size="5.6" fill="#404040">2022</text><path d="M266.2 786h11.4" stroke="#a5a5a5" stroke-width="1" fill="none"/><text x="278.9" y="787.9" font-size="5.6" fill="#404040">2023</text><path d="M298.3 786h11.4" stroke="#ed7d31" stroke-width="1" fill="none"/><text x="311" y="787.9" font-size="5.6" fill="#404040">2024</text><path d="M330.3 786h11.4" stroke="#3f546f" stroke-width="1" fill="none"/><text x="343" y="787.9" font-size="5.6" fill="#404040">2025</text><path d="M362.3 786h11.4" stroke="#ff0000" stroke-width="1" fill="none"/><text x="375" y="787.9" font-size="5.6" fill="#404040">2026</text>
<text class="cj" x="529" y="781.2" font-size="8.2" text-anchor="middle" fill="#595959" letter-spacing="0.9">5-9价差(元/吨)</text>
<text x="436.1" y="793.2" font-size="5.6" text-anchor="end" fill="#595959">350</text><text x="436.1" y="800.41" font-size="5.6" text-anchor="end" fill="#595959">250</text><text x="436.1" y="807.62" font-size="5.6" text-anchor="end" fill="#595959">150</text><text x="436.1" y="814.83" font-size="5.6" text-anchor="end" fill="#595959">50</text><text x="436.1" y="822.04" font-size="5.6" text-anchor="end" fill="#595959">-50</text><text x="436.1" y="829.26" font-size="5.6" text-anchor="end" fill="#595959">-150</text><text x="436.1" y="836.47" font-size="5.6" text-anchor="end" fill="#595959">-250</text><text x="436.1" y="843.68" font-size="5.6" text-anchor="end" fill="#595959">-350</text><text x="436.1" y="850.89" font-size="5.6" text-anchor="end" fill="#595959">-450</text><text x="436.1" y="858.1" font-size="5.6" text-anchor="end" fill="#595959">-550</text>
<path d="M441.99 807.73L443.32 807.49L444.65 807.83L445.98 807.8L447.31 807.38L448.64 806.79L449.98 806.14L451.31 806.64L452.64 805.68L453.97 805.29L455.3 805.04L456.63 804.8L457.97 804.87L459.3 804.43L460.63 804.76L461.96 804.75L463.29 804.51L464.62 803.8L465.96 803.2L467.29 802.35L468.62 801.33L469.95 799.67L471.28 800.03L472.62 800.21L473.72 801.02L474.83 801.37L475.94 801.93L477.28 800.83L478.61 799.85L479.94 798.87L481.05 798.98L482.16 800.35L483.27 800.9L484.6 799.52L485.93 798.77L487.26 797.9L488.6 797.45L489.93 799.98L491.26 801.84L492.59 798.16L493.92 794.7L495.25 795.45L496.59 796.09L497.7 794.86L498.81 793.43L499.92 792.71L501.03 792.14L502.13 791L503.24 790.41L504.58 789.92L505.91 788.48L507.24 788.61L508.57 788.71L509.57 791.41L510.57 794.87L512.17 805.58L513.23 815.79L514.34 815.71L515.45 815.16L516.56 814.65L517.89 815.32L519.23 815.23L520.56 815.4L521.89 815.74L523.22 815.99L524.55 815.77L525.88 816.95L527.22 817.88L528.55 819.59L529.88 819.35L531.21 818.98L532.54 818.29L533.87 820.04L535.21 820.76L536.54 822.04L537.69 822.32L538.85 821.96L540 822.93L540.33 832.52L541.66 831.27L542.99 830.51L544.32 833.18L545.65 835.7L546.65 839.44L547.65 843.86L548.98 841.44L550.31 838.86L551.65 838.79L552.98 840.17L554.31 838.77L555.64 838.05L556.75 839.12L557.86 840.81L558.97 842.53L560.08 841.47L561.19 840.33L562.3 838.5L563.63 840.63L564.96 841.96L566.3 844.36L567.63 846.58L568.63 846.26L569.62 845.6L570.62 848.32L571.62 852.09L572.62 853.28L573.62 854.16L574.02 805.13L575.15 805.67L576.28 805.8L577.39 805.22L578.5 804.68L579.61 804.64L580.72 804.65L581.83 805.49L582.94 805.78L584.27 806.19L585.61 806.39L586.94 805.6L588.27 804.88L589.6 805.39L590.93 806.13L592.26 805.93L593.6 805.44L594.93 804.39L596.26 804.47L597.59 804.06L598.92 804.01L600.25 803.1L601.59 803.48L602.92 803.75L604.25 804.39L605.58 804.62L606.91 805.54L608.24 805.67L609.58 805.91L610.91 805.11L612.24 805.48L613.57 804.58L614.9 804.41L616.23 804.57L617.57 804.26L618.9 804.75L620.23 804.83L621.56 806.08L622.89 806.77L624.23 806.84L625.56 808.13L626.67 807.86L627.78 808.44L628.89 807.97" fill="none" stroke="#a5a5a5" stroke-width="1.1" stroke-linejoin="round"/>
<path d="M441.99 808.14L443.32 808.19L444.65 808.02L445.98 808.67L447.31 808.15L448.64 808.22L449.98 808.31L451.31 807.78L452.64 807.06L453.97 807.07L455.3 805.7L456.63 803.06L457.74 803.85L458.85 804.18L459.96 805.18L461.3 804.94L462.63 805.34L463.96 804.94L465.29 804.7L466.62 805.8L467.95 805.79L469.06 806.01L470.17 805.98L471.28 806.01L472.62 808.69L473.95 811.25L475.06 810.58L476.17 809.86L477.28 809.08L478.39 808.32L479.5 807.48L480.61 807.42L481.94 809.05L483.27 810.3L484.6 808.53L485.93 806.77L487.26 807.87L488.6 808.84L489.93 805.7L491.26 803.31L492.37 803.69L493.48 803.79L494.59 804.93L495.92 806.82L497.25 808.79L498.58 809.44L499.92 809.7L501.25 808.12L502.58 805.01L503.91 807.41L505.24 808.46L506.57 809.96L507.91 811.58L508.9 813.47L509.9 816.22L511.23 818.45L512.57 819.8L513.68 821.34L514.79 822.2L515.9 822.94L517.01 823.7L518.12 824.73L519.23 826.11L520.56 825.7L521.89 826.13L523.22 826.39L524.55 827.07L525.88 826.21L527.22 826.35L528.55 826.22L529.88 825.46L531.21 825.56L532.54 825.67L533.87 825.04L535.21 825.3L536.4 826L537.6 825.46L538.8 826.31L540 826.32L540.33 827.47L541.66 829.69L542.99 831.15L544.32 829.16L545.65 827.94L546.99 828.53L548.32 827.91L549.65 828.68L550.98 829.69L552.31 829.99L553.64 831.49L554.98 831.32L556.31 829.92L557.64 829.83L558.97 830.85L560.3 830.78L561.63 831.42L562.97 832.59L564.3 833.21L565.63 835.23L566.96 837.76L568.29 836.03L569.62 833.53L570.96 829.59L572.29 825.08L573.89 805.81L575.62 804.79L576.73 804.17L577.84 803.15L578.95 802.3L580.06 802.54L581.17 803.55L582.28 803.83L583.39 803.3L584.5 803.93L585.61 803.01L586.6 800.06L587.6 797.57L588.6 801.28L589.6 804.88L590.8 803.18L592 801.13L593.6 808.7L594.59 807.41L595.59 806.91L596.59 807.84L597.59 809.19L598.92 809.52L600.25 809.85L601.59 809.7L602.92 810.53L604.25 810.74L605.58 810.11L606.91 810.77L608.24 810.55L609.58 809.87L610.91 810.08L612.24 810.26L613.57 810.14L614.9 810.61L616.23 810.67L617.57 810.82L618.9 809.96L620.23 807.94L621.56 807.32L622.89 807.45L624.23 808.63L625.56 808.73L626.67 808.06L627.78 808.65L628.89 807.97" fill="none" stroke="#5b9bd5" stroke-width="1.1" stroke-linejoin="round"/>
<path d="M441.99 807.49L443.32 807.37L444.65 806.49L445.98 806.91L447.31 806.8L448.64 806.63L449.98 806.34L451.31 806.3L452.64 806.29L453.97 806.37L455.3 805.89L456.63 805.67L457.97 806.63L459.3 806.54L460.63 806.94L461.96 806.86L463.29 807.78L464.62 808.2L465.96 808.34L467.29 808.43L468.62 807.67L469.95 807.53L471.28 805.55L472.62 804.69L473.95 803.93L475.28 803.33L476.61 803.39L477.72 804.13L478.83 803.81L479.94 804.6L481.27 803.35L482.6 802.05L483.6 804.74L484.6 806.35L485.93 808.93L487.26 811.03L488.6 810.23L489.93 808.8L491.04 809.67L492.15 810.07L493.26 811.27L494.37 810.92L495.48 810.23L496.59 809.91L497.92 809.2L499.25 809.22L500.58 808.66L501.91 809.84L503.24 810.35L504.58 811.4L505.91 808.48L507.24 805.83L508.35 804.27L509.46 801.74L510.57 799.9L511.9 804.05L512.83 830.22L513.85 830.19L514.87 830.24L515.9 830.22L517.23 827.88L518.56 825.75L519.89 830.59L521.22 835.28L522.33 834.83L523.44 833.79L524.55 832.58L525.66 831.03L526.77 829.23L527.88 827.4L529.21 827.97L530.54 827.81L531.88 828.27L532.99 827.86L534.1 827.5L535.21 826.63L536.54 824.74L537.87 821.76L538.93 820.68L540 820.05L541.66 822.42L542.99 823.1L544.32 822.94L545.65 823.32L546.99 823.26L548.32 822.92L549.65 822.4L550.98 821.49L552.31 821.52L553.64 820.32L554.81 820.22L555.97 820.19L557.14 821.04L558.31 820.42L559.41 822L560.52 822.44L561.63 824.26L562.97 823.46L564.3 823.1L565.63 823.25L566.96 823.56L568.29 824.57L569.62 825.43L570.96 825.52L572.29 826.47L574.02 829.75L574.55 809.07L575.57 809.07L576.59 809.68L577.62 809.59L578.72 808.07L579.83 807.53L580.94 806.57L582.28 806.77L583.61 806.61L584.94 807.54L586.05 807.74L587.16 808.36L588.27 809.57L589.6 809.36L590.93 809.56L592.26 810.1L593.37 810.01L594.48 810.72L595.59 810.28L596.26 814.95L597.59 814.93L598.92 814.26L600.25 813.6L601.59 812.73L602.92 812.59L604.25 812.24L605.58 811.6L606.91 811.1L608.24 810.32L609.58 809.49L610.91 808.91L612.24 807.13L613.57 806.65L614.9 805.8L616.23 804.38L617.57 805.15L618.9 804.96L620.23 805.62L621.34 806.6L622.45 807.56L623.56 808.27L624.67 808.65L625.78 808.15L626.89 808.79L627.89 808.78L628.89 808.63" fill="none" stroke="#ffc000" stroke-width="1.1" stroke-linejoin="round"/>
<path d="M441.99 805.84L443.32 806L444.65 806.49L445.98 806.37L447.31 806.52L448.64 806.48L449.98 806.65L451.31 806.59L452.64 806.7L453.97 806.24L455.3 805.83L456.63 805.75L457.97 805.2L459.3 805.5L460.63 805.75L461.96 805.7L463.29 805.89L464.46 805.93L465.62 805.82L466.79 806.02L467.95 805.99L469.29 806.33L470.62 806.23L471.95 806.64L473.06 807.14L474.17 808.14L475.28 808.66L476.61 809.25L477.94 810.03L479.27 810.63L480.61 811.01L481.94 811.47L483.27 811.88L484.6 811.04L485.93 809.74L487.26 808.49L488.6 809.15L489.93 809.39L491.26 810.02L492.59 810.04L493.92 809.89L495.25 810.04L496.59 810.05L497.92 810.37L499.25 810.6L500.58 810.36L501.91 810.26L503.24 809.94L504.58 809.61L505.91 809.54L507.24 809.29L508.26 808.39L509.28 807.47L510.3 806.58L511.5 801.41L512.83 817.41L514.16 825.94L515.41 825.76L516.65 825.61L517.89 825.19L519.23 825.1L520.56 824.76L521.89 824.8L523.22 824.57L524.55 824.61L525.88 824.24L527.22 824.25L528.55 824L529.88 824.44L531.21 824.99L532.54 825.39L533.87 825.08L535.21 824.65L536.54 824.52L537.69 824.54L538.85 824.22L540 824.02L541.5 823.08L542.99 822.53L544.32 822.57L545.65 822.34L546.99 821.92L548.32 822.36L549.65 822.71L550.98 823.24L552.31 823.89L553.64 824.17L554.98 824.67L556.31 825.04L557.64 825.59L558.97 825.85L560.3 825.72L561.63 825.69L562.97 825.29L564.3 824.72L565.63 823.81L566.96 823.19L568.29 822.5L569.62 822.09L570.96 821.41L572.29 819.87L573.62 818.52L574.95 816.02L576.28 815.82L577.62 815.44L578.95 815.33L580.28 814.77L581.61 814.89L582.94 815.11L584.27 815.66L585.61 815.71L586.94 816.03L588.27 816.33L589.6 816.35L590.93 816.67L592.26 816.56L593.6 816.33L594.93 816.01L596.26 816.06L597.59 816.17L598.92 816.21L600.25 816.11L601.59 816.09L602.7 816.2L603.81 816.39L604.92 816.48L606.03 816.63L607.13 816.56L608.24 816.74L609.35 816.72L610.46 816.78L611.57 816.63L612.68 816.72L613.79 817.07L614.9 816.92L616.01 816.87L617.12 816.69L618.23 816.9L619.34 816.67L620.45 816.56L621.56 816.59L622.89 816.92L624.23 817.14L625.56 817.07L626.89 817.22L628.22 817.48L629.55 817.55" fill="none" stroke="#ed7d31" stroke-width="1.1" stroke-linejoin="round"/>
<path d="M441.99 819.36L443.32 819.18L444.65 819.22L445.98 819.03L447.31 818.99L448.64 819.54L449.98 819.77L451.31 820.34L452.64 820.55L453.97 820.68L455.3 820.69L456.63 820.82L457.97 821.05L459.3 821.29L460.63 821.44L461.96 821.63L463.29 822.04L464.62 821.41L465.96 820.98L467.29 820.58L468.62 820.05L469.95 820.02L471.28 820.11L472.62 820.11L473.95 820.19L475.28 820.01L476.61 819.99L477.94 819.71L479.27 819.79L480.38 819.37L481.49 818.83L482.6 818.66L483.93 817L485.27 815.33L486.6 813.57L487.93 811.97L489.04 812.32L490.15 812.89L491.26 813.25L492.37 813.57L493.48 813.78L494.59 814.01L495.7 814.77L496.81 815.41L497.92 816L499.25 815.52L500.58 815.25L501.91 814.94L503.02 814.59L504.13 814.41L505.24 813.91L506.35 814.25L507.46 814.63L508.57 814.82L509.9 816.31L511.23 818.02L512.57 819.91L513.9 821.92L515.23 821.4L516.56 820.92L517.89 820.59L519.23 819.81L520.56 818.94L521.89 817.87L523 817.03L524.11 816.04L525.22 815.38L526.33 816.6L527.44 817.99L528.55 819.19L529.66 818.81L530.77 818.33L531.88 817.93L532.99 818.24L534.1 818.31L535.21 818.58L536.4 818.72L537.6 818.92L538.8 818.97L540 819.32L541.5 819.03L542.99 818.72L544.1 817.37L545.21 816.53L546.32 815.21L547.32 814.36L548.32 813.29L549.65 812.26L550.98 811.27L552.31 811.94L553.64 812.56L554.75 812.35L555.86 812L556.97 811.77L558.31 811.86L559.64 811.99L560.97 812.06L562.3 810.9L563.63 809.86L564.96 808.71L566.07 808.74L567.18 808.53L568.29 808.72L569.62 809.28L570.96 809.95L571.96 807.96L572.95 805.96L574.02 817.25L575.25 817.49L576.48 817.49L577.71 817.69L578.95 818.03L580.28 817.98L581.61 817.81L582.94 817.99L584.27 817.93L585.61 818.24L586.94 818.32L588.27 818.65L589.6 818.76L590.93 818.85L592.26 818.86L593.6 818.86L594.93 818.95L596.26 818.88L597.59 818.62L598.92 818.59L600.25 818.43L601.59 818.27L602.92 818.15L604.25 818.05L605.58 817.72L606.91 817.64L608.24 817.34L609.58 817.2L610.91 817.17L612.24 817.25L613.57 817.34L614.9 817.19L616.23 817.27L617.57 817.38L618.9 817.21L620.23 817.22L621.56 816.86L622.89 816.16L624.23 815.69L625.56 815.23L626.89 814.8L628.22 814.32L629.82 815.69" fill="none" stroke="#3f546f" stroke-width="1.1" stroke-linejoin="round"/>
<path d="M442.25 811.96L443.98 816.22" fill="none" stroke="#ff0000" stroke-width="1.1" stroke-linejoin="round"/>
<path d="M441.3 790.9V856.6M441.3 791.3h1.6M441.3 798.51h1.6M441.3 805.72h1.6M441.3 812.93h1.6M441.3 820.14h1.6M441.3 827.36h1.6M441.3 834.57h1.6M441.3 841.78h1.6M441.3 848.99h1.6M441.3 856.2h1.6" fill="none" stroke="#3b3838" stroke-width="1.1"/>
<path d="M440.8 816.4H630.2M441.3 816.4v-1.8M457.04 816.4v-1.8M472.78 816.4v-1.8M488.53 816.4v-1.8M504.27 816.4v-1.8M520.01 816.4v-1.8M535.75 816.4v-1.8M551.49 816.4v-1.8M567.23 816.4v-1.8M582.98 816.4v-1.8M598.72 816.4v-1.8M614.46 816.4v-1.8M630.2 816.4v-1.8" fill="none" stroke="#000" stroke-width="1.1"/>
<text class="cj" transform="translate(442.5,864.8) rotate(-45)" font-size="5.8" text-anchor="end" fill="#595959">1月1日</text><text class="cj" transform="translate(458.24,864.8) rotate(-45)" font-size="5.8" text-anchor="end" fill="#595959">2月1日</text><text class="cj" transform="translate(473.98,864.8) rotate(-45)" font-size="5.8" text-anchor="end" fill="#595959">3月1日</text><text class="cj" transform="translate(489.73,864.8) rotate(-45)" font-size="5.8" text-anchor="end" fill="#595959">4月1日</text><text class="cj" transform="translate(505.47,864.8) rotate(-45)" font-size="5.8" text-anchor="end" fill="#595959">5月1日</text><text class="cj" transform="translate(521.21,864.8) rotate(-45)" font-size="5.8" text-anchor="end" fill="#595959">6月1日</text><text class="cj" transform="translate(536.95,864.8) rotate(-45)" font-size="5.8" text-anchor="end" fill="#595959">7月1日</text><text class="cj" transform="translate(552.69,864.8) rotate(-45)" font-size="5.8" text-anchor="end" fill="#595959">8月1日</text><text class="cj" transform="translate(568.43,864.8) rotate(-45)" font-size="5.8" text-anchor="end" fill="#595959">9月1日</text><text class="cj" transform="translate(584.18,864.8) rotate(-45)" font-size="5.8" text-anchor="end" fill="#595959">10月1日</text><text class="cj" transform="translate(599.92,864.8) rotate(-45)" font-size="5.8" text-anchor="end" fill="#595959">11月1日</text><text class="cj" transform="translate(615.66,864.8) rotate(-45)" font-size="5.8" text-anchor="end" fill="#595959">12月1日</text>
<path d="M446.6 785.3h11.4" stroke="#5b9bd5" stroke-width="1" fill="none"/><text x="459.3" y="787.2" font-size="5.6" fill="#404040">2021</text><path d="M476.3 785.3h11.4" stroke="#ffc000" stroke-width="1" fill="none"/><text x="489" y="787.2" font-size="5.6" fill="#404040">2022</text><path d="M506.2 785.3h11.4" stroke="#a5a5a5" stroke-width="1" fill="none"/><text x="518.9" y="787.2" font-size="5.6" fill="#404040">2023</text><path d="M536 785.3h11.4" stroke="#ed7d31" stroke-width="1" fill="none"/><text x="548.7" y="787.2" font-size="5.6" fill="#404040">2024</text><path d="M565.4 785.3h11.4" stroke="#3f546f" stroke-width="1" fill="none"/><text x="578.1" y="787.2" font-size="5.6" fill="#404040">2025</text><path d="M595.2 785.3h11.4" stroke="#ff0000" stroke-width="1" fill="none"/><text x="607.9" y="787.2" font-size="5.6" fill="#404040">2026</text>
<text class="cj" x="291.6" y="905" font-size="7.9" text-anchor="middle" fill="#595959" letter-spacing="0">仓单数量合计（张）</text>
<text x="193.1" y="913.2" font-size="5.6" text-anchor="end" fill="#595959">13000</text><text x="193.1" y="918.39" font-size="5.6" text-anchor="end" fill="#595959">12000</text><text x="193.1" y="923.58" font-size="5.6" text-anchor="end" fill="#595959">11000</text><text x="193.1" y="928.78" font-size="5.6" text-anchor="end" fill="#595959">10000</text><text x="193.1" y="933.97" font-size="5.6" text-anchor="end" fill="#595959">9000</text><text x="193.1" y="939.16" font-size="5.6" text-anchor="end" fill="#595959">8000</text><text x="193.1" y="944.35" font-size="5.6" text-anchor="end" fill="#595959">7000</text><text x="193.1" y="949.55" font-size="5.6" text-anchor="end" fill="#595959">6000</text><text x="193.1" y="954.74" font-size="5.6" text-anchor="end" fill="#595959">5000</text><text x="193.1" y="959.93" font-size="5.6" text-anchor="end" fill="#595959">4000</text><text x="193.1" y="965.12" font-size="5.6" text-anchor="end" fill="#595959">3000</text><text x="193.1" y="970.32" font-size="5.6" text-anchor="end" fill="#595959">2000</text><text x="193.1" y="975.51" font-size="5.6" text-anchor="end" fill="#595959">1000</text><text x="193.1" y="980.7" font-size="5.6" text-anchor="end" fill="#595959">0</text>
<path d="M198.26 963.6L200.65 958.93L201.99 956.94L207.31 956.94L209.31 961.6L211.97 963.6L214.64 967.59L217.3 972.92L219.96 974.25L223.96 974.25L226.62 976.25L228.62 978.91L235.28 978.91L243.27 979.31L247.26 978.91L252.59 978.91L260.58 978.91L262.58 974.25L269.24 973.98L271.23 967.59L273.9 966.92L276.56 969.59L279.23 972.92L282.55 975.58L285.88 977.58L291.21 978.24L295.21 978.91L298.54 975.58L300 972.92L300.99 967.59L302.72 962.53L307.25 962.53L308.32 968.92L309.65 973.58L314.98 974.25L317.64 976.91L321.63 977.18L328.29 976.91L336.28 976.91L337.88 970.25L340.28 969.99L348.27 970.25L356.92 970.25L358.92 968.66L361.59 970.92L364.25 975.58L366.25 978.91L374.9 978.91L385.56 978.91L388.89 977.58L394.21 977.58L395.15 967.59L401.54 967.32" fill="none" stroke="#5b9bd5" stroke-width="1.1" stroke-linejoin="round"/>
<path d="M198.26 968.92L199.32 965.59L200.65 963.6L201.99 957.6L204.65 957.6L207.98 958L208.64 960.93L213.97 960.93L220.63 961.6L225.96 962.26L227.29 970.25L228.35 978.91L233.95 978.91L236.61 974.92L239.94 974.25L243.27 973.58L247.26 974.25L252.59 974.92L257.92 975.58L261.91 974.25L265.91 973.98L269.9 973.58L271.9 971.59L275.23 970.92L278.56 972.25L281.89 974.25L285.88 974.92L292.54 975.31L294.27 978.91L300 978.24L301.66 975.31L307.65 974.92L309.65 976.91L314.98 977.58L320.3 976.91L322.3 974.92L325.63 974.25L327.63 971.59L333.62 970.25L337.62 964.93L340.28 964.26L343.61 965.59L348.27 966.53L353.6 965.99L358.92 966.53L361.59 968.26L363.58 972.25L365.58 977.58L369.58 978.91L374.24 977.98L376.23 972.92L378.23 970.92L382.89 970.25L388.22 969.59L392.22 968.26L396.21 968.26L401.54 967.86" fill="none" stroke="#ffc000" stroke-width="1.1" stroke-linejoin="round"/>
<path d="M198.26 970.25L201.32 967.59L203.32 961.6L208.64 961.6L213.97 960.93L220.63 960.93L223.96 960.27L225.96 962.26L227.02 976.91L228.62 978.91L233.95 978.91L236.61 975.58L239.94 974.25L243.27 976.91L247.26 977.58L249.26 975.58L255.25 975.58L259.25 974.92L262.58 972.25L268.57 972.25L270.3 966.26L273.23 965.59L275.9 967.59L278.56 970.25L281.89 972.25L285.88 970.92L289.21 970.25L292.54 971.59L294.27 978.91L300 977.58L300.99 970.92L302.99 970.25L307.65 970.25L309.38 972.92L314.98 972.92L318.31 973.18L319.64 976.25L325.63 976.91L333.62 976.91L338.95 976.65L345.61 976.91L353.6 976.91L361.59 976.25L365.58 977.58L367.58 978.91L369.31 967.59L371.57 954.27L373.57 947.62L376.9 944.95L381.56 944.29L386.89 944.69L390.88 934.3L394.21 926.97L396.88 924.31L400.21 924.98L400.61 914.32" fill="none" stroke="#a5a5a5" stroke-width="1.1" stroke-linejoin="round"/>
<path d="M198.26 921.65L201.32 923.64L203.98 922.05L206.65 922.98L208.64 926.31L211.97 926.97L213.97 926.97L214.64 932.3L217.3 932.7L219.3 930.3L221.3 931.63L224.62 932.3L227.29 937.63L229.29 939.89L230.35 948.95L231.02 978.91L233.95 978.91L235.94 975.58L239.27 973.58L241 972.92L241.67 968.26L245.93 968.66L252.59 968.66L254.59 964.26L257.92 965.59L261.25 966.92L265.91 966.92L269.9 968.26L271.9 968.92L273.23 963.33L275.9 964.26L279.23 967.32L281.22 964.26L285.88 965.59L291.88 966.53L293.21 970.25L294.27 978.91L297.87 978.24L300 977.58L300.99 974.92L302.99 973.58L307.65 973.58L309.65 974.92L314.98 974.92L319.64 974.92L321.63 971.59L327.63 971.32L331.62 970.25L334.95 968.26L337.62 964.93L340.94 964.93L344.94 966.26L352.26 966.26L357.59 966.26L360.92 967.59L363.58 971.59L365.58 977.58L367.58 978.91L369.58 974.25L371.57 964.93L374.24 958.27L377.57 954.27L381.56 950.28L385.56 946.28L388.22 944.95L390.88 946.95L394.88 945.62L398.87 943.62L401.54 944.29" fill="none" stroke="#ed7d31" stroke-width="1.1" stroke-linejoin="round"/>
<path d="M198.26 942.95L201.32 942.95L202.65 931.63L205.31 931.63L208.64 928.31L211.97 926.57L216.63 926.57L220.63 926.57L221.3 930.97L223.96 931.63L225.96 933.63L226.62 937.63L227.95 938.96L228.62 978.24L230.62 978.91L232.62 978.91L233.95 966.26L235.94 949.61L238.61 950.28L241.27 948.68L244.6 949.61L246.6 950.94L249.26 954.27L252.59 954.94L256.59 956.27L260.31 957.6L261.25 952.94L264.58 953.61L269.9 952.94L270.84 942.29L273.23 939.89L275.23 939.36L277.89 940.96L281.89 944.69L284.82 947.35L289.88 948.28L291.21 952.94L293.21 968.92L294.54 978.91L296.54 977.58L298.54 978.91L300 975.58L300.99 971.59L302.32 965.59L306.99 964.93L308.32 966.26L311.65 966.26L314.98 961.6L318.31 960.93L322.3 958.93L324.3 960.27L326.96 960.27L330.29 945.62L333.62 940.29L336.28 934.3L338.95 932.3L340.94 934.3L344.27 939.36L348.27 941.22L352.26 942.29L356.26 942.95L360.25 947.62L364.25 951.61L365.18 968.92L366.25 978.91L367.98 962.26L369.58 958.27L371.57 944.95L374.24 941.62L377.57 940.96L380.9 940.29L383.56 938.29L385.29 936.96L386.62 921.65L389.55 918.32L391.55 920.31L394.21 920.98L396.21 923.64L399.54 922.31L400.61 914.32" fill="none" stroke="#3f546f" stroke-width="1.1" stroke-linejoin="round"/>
<path d="M198.26 912.99L199.32 914.59" fill="none" stroke="#ff0000" stroke-width="1.1" stroke-linejoin="round"/>
<path d="M198.3 910.9V979.2M198.3 911.3h1.6M198.3 916.49h1.6M198.3 921.68h1.6M198.3 926.88h1.6M198.3 932.07h1.6M198.3 937.26h1.6M198.3 942.45h1.6M198.3 947.65h1.6M198.3 952.84h1.6M198.3 958.03h1.6M198.3 963.22h1.6M198.3 968.42h1.6M198.3 973.61h1.6M198.3 978.8h1.6" fill="none" stroke="#3b3838" stroke-width="1.1"/>
<path d="M197.8 978.8H401.5M198.3 978.8v-1.8M215.23 978.8v-1.8M232.17 978.8v-1.8M249.1 978.8v-1.8M266.03 978.8v-1.8M282.97 978.8v-1.8M299.9 978.8v-1.8M316.83 978.8v-1.8M333.77 978.8v-1.8M350.7 978.8v-1.8M367.63 978.8v-1.8M384.57 978.8v-1.8M401.5 978.8v-1.8" fill="none" stroke="#000" stroke-width="1.1"/>
<text class="cj" transform="translate(199.5,987.4) rotate(-45)" font-size="5.8" text-anchor="end" fill="#595959">1月1日</text><text class="cj" transform="translate(216.43,987.4) rotate(-45)" font-size="5.8" text-anchor="end" fill="#595959">2月1日</text><text class="cj" transform="translate(233.37,987.4) rotate(-45)" font-size="5.8" text-anchor="end" fill="#595959">3月1日</text><text class="cj" transform="translate(250.3,987.4) rotate(-45)" font-size="5.8" text-anchor="end" fill="#595959">4月1日</text><text class="cj" transform="translate(267.23,987.4) rotate(-45)" font-size="5.8" text-anchor="end" fill="#595959">5月1日</text><text class="cj" transform="translate(284.17,987.4) rotate(-45)" font-size="5.8" text-anchor="end" fill="#595959">6月1日</text><text class="cj" transform="translate(301.1,987.4) rotate(-45)" font-size="5.8" text-anchor="end" fill="#595959">7月1日</text><text class="cj" transform="translate(318.03,987.4) rotate(-45)" font-size="5.8" text-anchor="end" fill="#595959">8月1日</text><text class="cj" transform="translate(334.97,987.4) rotate(-45)" font-size="5.8" text-anchor="end" fill="#595959">9月1日</text><text class="cj" transform="translate(351.9,987.4) rotate(-45)" font-size="5.8" text-anchor="end" fill="#595959">10月1日</text><text class="cj" transform="translate(368.83,987.4) rotate(-45)" font-size="5.8" text-anchor="end" fill="#595959">11月1日</text><text class="cj" transform="translate(385.77,987.4) rotate(-45)" font-size="5.8" text-anchor="end" fill="#595959">12月1日</text>
<path d="M205.3 909.3h11.4" stroke="#5b9bd5" stroke-width="1" fill="none"/><text x="218" y="911.2" font-size="5.6" fill="#404040">2021</text><path d="M237.3 909.3h11.4" stroke="#ffc000" stroke-width="1" fill="none"/><text x="250" y="911.2" font-size="5.6" fill="#404040">2022</text><path d="M269.6 909.3h11.4" stroke="#a5a5a5" stroke-width="1" fill="none"/><text x="282.3" y="911.2" font-size="5.6" fill="#404040">2023</text><path d="M300.3 909.3h11.4" stroke="#ed7d31" stroke-width="1" fill="none"/><text x="313" y="911.2" font-size="5.6" fill="#404040">2024</text><path d="M332.3 909.3h11.4" stroke="#3f546f" stroke-width="1" fill="none"/><text x="345" y="911.2" font-size="5.6" fill="#404040">2025</text><path d="M364.3 909.3h11.4" stroke="#ff0000" stroke-width="1" fill="none"/><text x="377" y="911.2" font-size="5.6" fill="#404040">2026</text>
<text class="cj" x="533.8" y="905.2" font-size="7.9" text-anchor="middle" fill="#595959" letter-spacing="0">主要仓库、厂库仓单数量（张）</text>
<text x="433.1" y="928.6" font-size="5" text-anchor="end" fill="#a09696">3000</text><text x="433.1" y="944.83" font-size="5" text-anchor="end" fill="#a09696">2000</text><text x="433.1" y="961.07" font-size="5" text-anchor="end" fill="#a09696">1000</text><text x="433.1" y="977.3" font-size="5" text-anchor="end" fill="#a09696">0</text>
<path d="M436.71 975.19L540 975.19L540.81 975.19L544.01 975.19L545.46 973.6L569.87 973.6L574.23 972L577.13 971.27L610.54 971.27L612 970.54L643.96 970.54" fill="none" stroke="#c9c9c9" stroke-width="1.6" stroke-linejoin="round"/>
<path d="M436.71 968.37L467.94 968.37L470.85 974.18L472.3 975.19L475.93 974.47L491.91 974.47L494.82 970.54L540 970.54L562.6 970.54L574.23 970.54L577.13 968.66L580.04 967.93L609.09 967.93L612 966.19L643.96 966.19" fill="none" stroke="#ffc000" stroke-width="1" stroke-linejoin="round"/>
<path d="M436.71 975.34L502.08 975.34L505.13 972.14L540 972.14L540.81 972.14L545.75 969.09L569.87 968.8L577.13 968.8L580.04 967.64L609.09 967.64L612 965.9L643.96 965.9" fill="none" stroke="#f4a040" stroke-width="1" stroke-linejoin="round"/>
<path d="M436.71 961.1L441.79 962.12L449.06 962.12L467.22 962.55L469.39 969.09L472.3 975.19L483.92 975.19L486.83 942.65L495.54 942.94L498.45 942.22L536.22 942.22L540 944.39L542.26 944.39L545.17 945.85L550.98 945.85L556.79 947.01L558.97 941.49L560.42 934.95L564.06 936.4L571.32 937.13L577.13 938.29L580.04 944.39L585.85 945.12L593.11 945.56L597.47 948.46L602.55 948.75L605.46 950.93L606.91 954.56L610.54 956.02L643.96 956.02" fill="none" stroke="#70ad47" stroke-width="1" stroke-linejoin="round"/>
<path d="M436.71 947.3L460.68 947.3L462.13 948.46L467.22 949.04L468.67 958.92L470.12 970.54L472.3 975.19L494.09 975.19L495.54 973.45L502.08 959.21L540 959.21L545.17 959.21L548.8 956.74L553.16 954.56L603.28 954.56L605.46 953.84L606.91 950.93L643.96 950.93" fill="none" stroke="#9e480e" stroke-width="1.2" stroke-linejoin="round"/>
<path d="M436.71 975.34L494.09 975.34L499.18 971.27L540 971.27L562.6 971.27L566.23 964.01L569.87 958.92L573.5 958.63L577.13 960.08L580.04 962.55L643.96 962.55" fill="none" stroke="#ff0000" stroke-width="1.2" stroke-linejoin="round"/>
<path d="M436.71 975.34L540 975.34L570.59 975.34" fill="none" stroke="#997300" stroke-width="1.3" stroke-linejoin="round"/>
<path d="M570.59 975.34L643.96 975.34" fill="none" stroke="#7030a0" stroke-width="1.3" stroke-linejoin="round"/>
<path d="M638.87 975.34L640.33 971.27L641.78 969.38L643.96 969.38" fill="none" stroke="#264478" stroke-width="1.1" stroke-linejoin="round"/>
<path d="M436.7 926.3V975.8M436.7 926.7h1.6M436.7 942.93h1.6M436.7 959.17h1.6M436.7 975.4h1.6" fill="none" stroke="#ff0000" stroke-width="1.1"/>
<text transform="translate(437.9,984) rotate(-45)" font-size="5.8" text-anchor="end" fill="#8f8f8f">2025/10/15</text><text transform="translate(455.17,984) rotate(-45)" font-size="5.8" text-anchor="end" fill="#8f8f8f">2025/10/22</text><text transform="translate(472.45,984) rotate(-45)" font-size="5.8" text-anchor="end" fill="#8f8f8f">2025/10/29</text><text transform="translate(489.72,984) rotate(-45)" font-size="5.8" text-anchor="end" fill="#8f8f8f">2025/11/5</text><text transform="translate(507,984) rotate(-45)" font-size="5.8" text-anchor="end" fill="#8f8f8f">2025/11/12</text><text transform="translate(524.28,984) rotate(-45)" font-size="5.8" text-anchor="end" fill="#8f8f8f">2025/11/19</text><text transform="translate(541.55,984) rotate(-45)" font-size="5.8" text-anchor="end" fill="#8f8f8f">2025/11/26</text><text transform="translate(558.83,984) rotate(-45)" font-size="5.8" text-anchor="end" fill="#8f8f8f">2025/12/3</text><text transform="translate(576.1,984) rotate(-45)" font-size="5.8" text-anchor="end" fill="#8f8f8f">2025/12/10</text><text transform="translate(593.38,984) rotate(-45)" font-size="5.8" text-anchor="end" fill="#8f8f8f">2025/12/17</text><text transform="translate(610.65,984) rotate(-45)" font-size="5.8" text-anchor="end" fill="#8f8f8f">2025/12/24</text><text transform="translate(627.93,984) rotate(-45)" font-size="5.8" text-anchor="end" fill="#8f8f8f">2025/12/31</text><text transform="translate(645.2,984) rotate(-45)" font-size="5.8" text-anchor="end" fill="#8f8f8f">2026/1/7</text>
<path d="M426.1 909.1h11.4" stroke="#5b9bd5" stroke-width="1" fill="none"/><text class="cj" x="439.4" y="911" font-size="5.15" fill="#707070">432处</text><path d="M482.5 909.1h11.4" stroke="#ffc000" stroke-width="1" fill="none"/><text class="cj" x="495.8" y="911" font-size="5.15" fill="#707070">安阳万庄库</text><path d="M539.1 909.1h11.4" stroke="#c9c9c9" stroke-width="1" fill="none"/><text class="cj" x="552.4" y="911" font-size="5.15" fill="#707070">衡水棉麻集</text><path d="M595.3 909.1h11.4" stroke="#f4a040" stroke-width="1" fill="none"/><text class="cj" x="608.6" y="911" font-size="5.15" fill="#707070">宁陵史丹利库</text><path d="M426.1 915.3h11.4" stroke="#264478" stroke-width="1" fill="none"/><text class="cj" x="439.4" y="917.2" font-size="5.15" fill="#707070">中农农合库</text><path d="M482.5 915.3h11.4" stroke="#ff0000" stroke-width="1" fill="none"/><text class="cj" x="495.8" y="917.2" font-size="5.15" fill="#707070">河北东光库</text><path d="M539.1 915.3h11.4" stroke="#70ad47" stroke-width="1" fill="none"/><text class="cj" x="552.4" y="917.2" font-size="5.15" fill="#707070">安徽西银库</text><path d="M595.3 915.3h11.4" stroke="#9e480e" stroke-width="1" fill="none"/><text class="cj" x="608.6" y="917.2" font-size="5.15" fill="#707070">中农控股库</text><path d="M426.1 921.6h11.4" stroke="#7030a0" stroke-width="1" fill="none"/><text class="cj" x="439.4" y="923.5" font-size="5.15" fill="#707070">辉隆大庆库</text><path d="M482.5 921.6h11.4" stroke="#997300" stroke-width="1" fill="none"/><text class="cj" x="495.8" y="923.5" font-size="5.15" fill="#707070">中原大化库</text>
</svg>
<div class="abs" style="left:173.4px;top:1007.4px;width:480.1px;height:62.6px;background:#0070c0"></div>
<div class="ft" style="top:1006.8px;font-size:6.9px;line-height:9px;letter-spacing:0.12px">注：数据来源于<span class="s">Wind</span>、钢联数据、冠通研究咨询</div>
<div class="ft" style="top:1014.7px;font-size:6.18px;line-height:9px;letter-spacing:0.15px">免责声明：本报告中的信息均来源于公开资料，我公司对这些信息的准确性和完整性不作任何保证，报告中的内容和意见仅供参考，并不构成对所述品种买卖的出价或征价。我</div>
<div class="ft" style="top:1028.9px;font-size:6.17px;line-height:9px;letter-spacing:0.05px">任何形式翻版、复制、引用或转载。如引用、转载、刊发，须注明出处为冠通期货股份有限公司。</div>
<div class="ft" style="top:1043.7px;font-size:6px;line-height:9px;letter-spacing:0.3px">冠通期货 研究咨询部 王静</div>
<div class="ft" style="top:1052.5px;font-size:6.4px;line-height:9px;letter-spacing:0px">执业资格证书编号：<span class="s">F0235424/Z0000771</span></div>
<div class="ft" style="top:1062.3px;font-size:7.45px;line-height:9px;letter-spacing:0.27px">联系方式：<span class="s">010-85356618</span></div>
</div></body></html>
